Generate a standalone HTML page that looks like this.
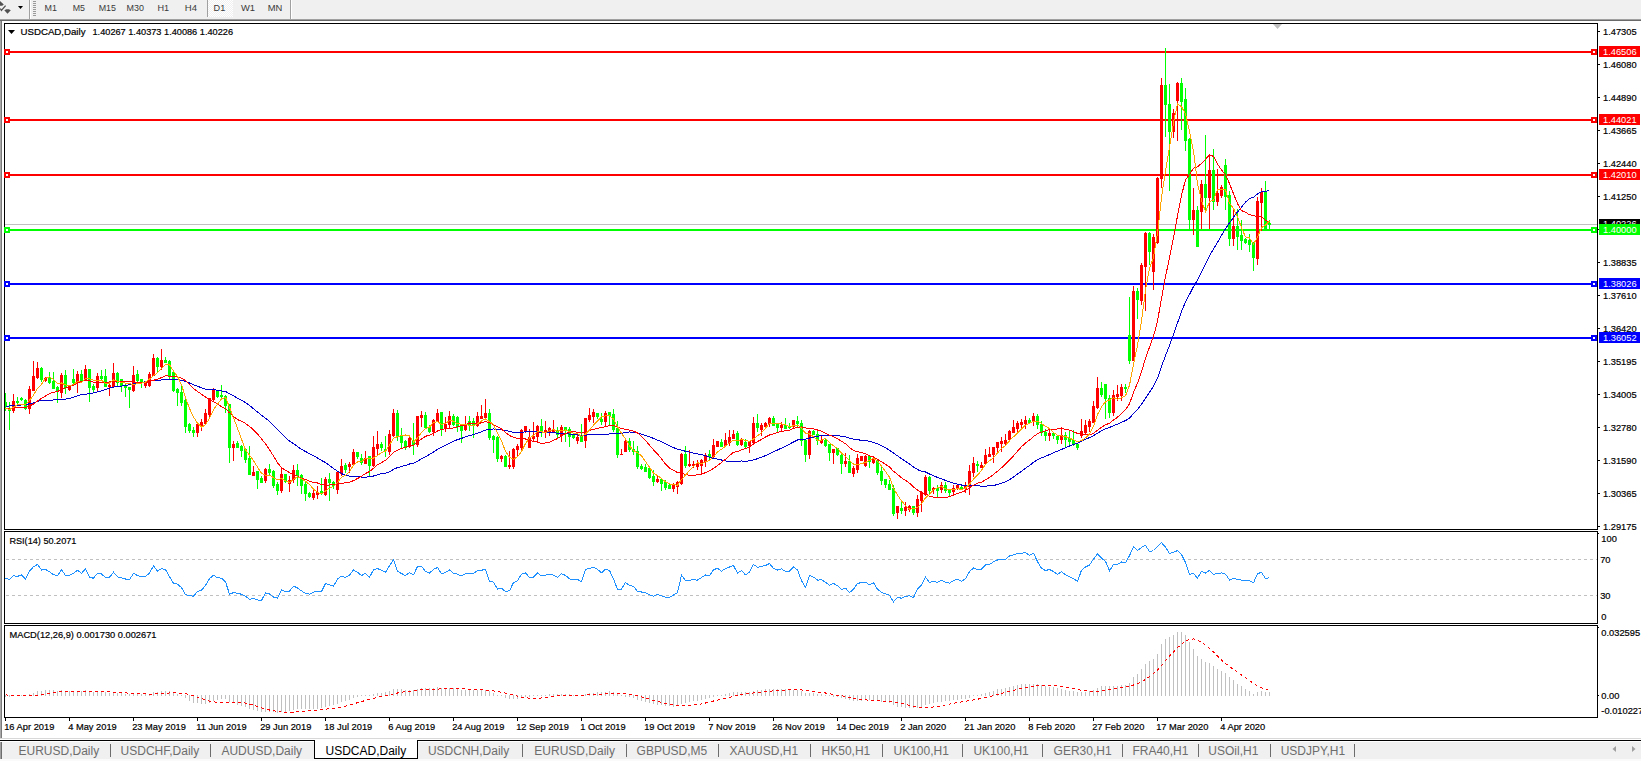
<!DOCTYPE html>
<html><head><meta charset="utf-8"><style>
html,body{margin:0;padding:0;background:#fff;width:1641px;height:761px;overflow:hidden}
svg{display:block}
</style></head><body>
<svg width="1641" height="761" viewBox="0 0 1641 761">
<rect x="0" y="0" width="1641" height="19" fill="#f0f0f0" />
<rect x="0" y="19" width="1641" height="1" fill="#a0a0a0" />
<rect x="0" y="20" width="1641" height="1" fill="#696969" />
<rect x="0" y="21" width="1" height="717" fill="#a8a8a8" />
<rect x="1" y="21" width="1" height="717" fill="#7a7a7a" />
<g fill="#505050" stroke="none"><path d="M0,1 L3.8,4.6 L2.2,5.8 L0,5.8 Z"/><path d="M4.3,10.3 L6.3,9.2 L8.8,9.2 L10.8,10.3 L7.5,13.8 Z"/></g>
<path d="M0.3,8.6 L1.4,10.4 L5.6,5.6" stroke="#505050" stroke-width="1.3" fill="none"/>
<path d="M18,6 L23,6 L20.5,9 Z" fill="#000"/>
<rect x="29" y="0" width="1" height="19" fill="#a0a0a0" />
<rect x="30" y="0" width="1" height="19" fill="#ffffff" />
<rect x="33" y="1" width="3" height="1" fill="#9a9a9a" />
<rect x="33" y="3" width="3" height="1" fill="#9a9a9a" />
<rect x="33" y="5" width="3" height="1" fill="#9a9a9a" />
<rect x="33" y="7" width="3" height="1" fill="#9a9a9a" />
<rect x="33" y="9" width="3" height="1" fill="#9a9a9a" />
<rect x="33" y="11" width="3" height="1" fill="#9a9a9a" />
<rect x="33" y="13" width="3" height="1" fill="#9a9a9a" />
<rect x="33" y="15" width="3" height="1" fill="#9a9a9a" />
<rect x="207" y="0" width="1" height="17" fill="#a0a0a0" />
<defs><pattern id="chk" width="2" height="2" patternUnits="userSpaceOnUse"><rect width="2" height="2" fill="#f0f0f0"/><rect width="1" height="1" fill="#ffffff"/><rect x="1" y="1" width="1" height="1" fill="#ffffff"/></pattern></defs>
<rect x="208" y="0" width="25" height="17" fill="url(#chk)" />
<text x="44.6" y="11" font-family="Liberation Sans, sans-serif" font-size="9.6" fill="#3a3a3a" textLength="12.40" lengthAdjust="spacingAndGlyphs">M1</text>
<text x="72.7" y="11" font-family="Liberation Sans, sans-serif" font-size="9.6" fill="#3a3a3a" textLength="12.30" lengthAdjust="spacingAndGlyphs">M5</text>
<text x="98.7" y="11" font-family="Liberation Sans, sans-serif" font-size="9.6" fill="#3a3a3a" textLength="17.30" lengthAdjust="spacingAndGlyphs">M15</text>
<text x="126.6" y="11" font-family="Liberation Sans, sans-serif" font-size="9.6" fill="#3a3a3a" textLength="17.40" lengthAdjust="spacingAndGlyphs">M30</text>
<text x="157.5" y="11" font-family="Liberation Sans, sans-serif" font-size="9.6" fill="#3a3a3a" textLength="11.70" lengthAdjust="spacingAndGlyphs">H1</text>
<text x="184.8" y="11" font-family="Liberation Sans, sans-serif" font-size="9.6" fill="#3a3a3a" textLength="12.20" lengthAdjust="spacingAndGlyphs">H4</text>
<text x="213.6" y="11" font-family="Liberation Sans, sans-serif" font-size="9.6" fill="#3a3a3a" textLength="11.70" lengthAdjust="spacingAndGlyphs">D1</text>
<text x="240.9" y="11" font-family="Liberation Sans, sans-serif" font-size="9.6" fill="#3a3a3a" textLength="14.10" lengthAdjust="spacingAndGlyphs">W1</text>
<text x="267.7" y="11" font-family="Liberation Sans, sans-serif" font-size="9.6" fill="#3a3a3a" textLength="14.60" lengthAdjust="spacingAndGlyphs">MN</text>
<rect x="290" y="0" width="1" height="19" fill="#a0a0a0" />
<rect x="291" y="0" width="1" height="19" fill="#ffffff" />
<rect x="2" y="21" width="1639" height="716" fill="#ffffff" />
<rect x="4" y="23" width="1594" height="1" fill="#000" />
<rect x="4" y="529" width="1594" height="1" fill="#000" />
<rect x="4" y="23" width="1" height="507" fill="#000" />
<rect x="1597" y="23" width="1" height="507" fill="#000" />
<rect x="4" y="531" width="1594" height="1" fill="#000" />
<rect x="4" y="623" width="1594" height="1" fill="#000" />
<rect x="4" y="531" width="1" height="93" fill="#000" />
<rect x="1597" y="531" width="1" height="93" fill="#000" />
<rect x="4" y="625" width="1594" height="1" fill="#000" />
<rect x="4" y="717" width="1594" height="1" fill="#000" />
<rect x="4" y="625" width="1" height="93" fill="#000" />
<rect x="1597" y="625" width="1" height="93" fill="#000" />
<path d="M1273,24 L1282,24 L1277.5,29 Z" fill="#c0c0c0"/>
<rect x="1598" y="31" width="2" height="1" fill="#000" />
<text x="1603" y="35" font-family="Liberation Sans, sans-serif" font-size="9.7" fill="#000" stroke="#000" stroke-width="0.2" textLength="33.61" lengthAdjust="spacingAndGlyphs">1.47305</text>
<rect x="1598" y="64" width="2" height="1" fill="#000" />
<text x="1603" y="68" font-family="Liberation Sans, sans-serif" font-size="9.7" fill="#000" stroke="#000" stroke-width="0.2" textLength="33.61" lengthAdjust="spacingAndGlyphs">1.46080</text>
<rect x="1598" y="97" width="2" height="1" fill="#000" />
<text x="1603" y="101" font-family="Liberation Sans, sans-serif" font-size="9.7" fill="#000" stroke="#000" stroke-width="0.2" textLength="33.61" lengthAdjust="spacingAndGlyphs">1.44890</text>
<rect x="1598" y="130" width="2" height="1" fill="#000" />
<text x="1603" y="134" font-family="Liberation Sans, sans-serif" font-size="9.7" fill="#000" stroke="#000" stroke-width="0.2" textLength="33.61" lengthAdjust="spacingAndGlyphs">1.43665</text>
<rect x="1598" y="163" width="2" height="1" fill="#000" />
<text x="1603" y="167" font-family="Liberation Sans, sans-serif" font-size="9.7" fill="#000" stroke="#000" stroke-width="0.2" textLength="33.61" lengthAdjust="spacingAndGlyphs">1.42440</text>
<rect x="1598" y="196" width="2" height="1" fill="#000" />
<text x="1603" y="200" font-family="Liberation Sans, sans-serif" font-size="9.7" fill="#000" stroke="#000" stroke-width="0.2" textLength="33.61" lengthAdjust="spacingAndGlyphs">1.41250</text>
<rect x="1598" y="229" width="2" height="1" fill="#000" />
<text x="1603" y="233" font-family="Liberation Sans, sans-serif" font-size="9.7" fill="#000" stroke="#000" stroke-width="0.2" textLength="33.61" lengthAdjust="spacingAndGlyphs">1.40025</text>
<rect x="1598" y="262" width="2" height="1" fill="#000" />
<text x="1603" y="266" font-family="Liberation Sans, sans-serif" font-size="9.7" fill="#000" stroke="#000" stroke-width="0.2" textLength="33.61" lengthAdjust="spacingAndGlyphs">1.38835</text>
<rect x="1598" y="295" width="2" height="1" fill="#000" />
<text x="1603" y="299" font-family="Liberation Sans, sans-serif" font-size="9.7" fill="#000" stroke="#000" stroke-width="0.2" textLength="33.61" lengthAdjust="spacingAndGlyphs">1.37610</text>
<rect x="1598" y="328" width="2" height="1" fill="#000" />
<text x="1603" y="332" font-family="Liberation Sans, sans-serif" font-size="9.7" fill="#000" stroke="#000" stroke-width="0.2" textLength="33.61" lengthAdjust="spacingAndGlyphs">1.36420</text>
<rect x="1598" y="361" width="2" height="1" fill="#000" />
<text x="1603" y="365" font-family="Liberation Sans, sans-serif" font-size="9.7" fill="#000" stroke="#000" stroke-width="0.2" textLength="33.61" lengthAdjust="spacingAndGlyphs">1.35195</text>
<rect x="1598" y="394" width="2" height="1" fill="#000" />
<text x="1603" y="398" font-family="Liberation Sans, sans-serif" font-size="9.7" fill="#000" stroke="#000" stroke-width="0.2" textLength="33.61" lengthAdjust="spacingAndGlyphs">1.34005</text>
<rect x="1598" y="427" width="2" height="1" fill="#000" />
<text x="1603" y="431" font-family="Liberation Sans, sans-serif" font-size="9.7" fill="#000" stroke="#000" stroke-width="0.2" textLength="33.61" lengthAdjust="spacingAndGlyphs">1.32780</text>
<rect x="1598" y="460" width="2" height="1" fill="#000" />
<text x="1603" y="464" font-family="Liberation Sans, sans-serif" font-size="9.7" fill="#000" stroke="#000" stroke-width="0.2" textLength="33.61" lengthAdjust="spacingAndGlyphs">1.31590</text>
<rect x="1598" y="493" width="2" height="1" fill="#000" />
<text x="1603" y="497" font-family="Liberation Sans, sans-serif" font-size="9.7" fill="#000" stroke="#000" stroke-width="0.2" textLength="33.61" lengthAdjust="spacingAndGlyphs">1.30365</text>
<rect x="1598" y="526" width="2" height="1" fill="#000" />
<text x="1603" y="530" font-family="Liberation Sans, sans-serif" font-size="9.7" fill="#000" stroke="#000" stroke-width="0.2" textLength="33.61" lengthAdjust="spacingAndGlyphs">1.29175</text>
<clipPath id="mc"><rect x="5" y="24" width="1592" height="505"/></clipPath>
<g clip-path="url(#mc)" shape-rendering="crispEdges">
<rect x="5" y="224" width="1592" height="1" fill="#c0c0c0" />
<rect x="5" y="51" width="1592" height="2" fill="#ff0000" />
<rect x="5" y="119" width="1592" height="2" fill="#ff0000" />
<rect x="5" y="174" width="1592" height="2" fill="#ff0000" />
<rect x="5" y="283" width="1592" height="2" fill="#0000ff" />
<rect x="5" y="337" width="1592" height="2" fill="#0000ff" />
<rect x="5" y="229" width="1592" height="2" fill="#00ff00" />
<rect x="5" y="393" width="1" height="18" fill="#00ff00" />
<rect x="4" y="402" width="3" height="5" fill="#00ff00" />
<rect x="9" y="402" width="1" height="28" fill="#00ff00" />
<rect x="8" y="408" width="3" height="3" fill="#00ff00" />
<rect x="13" y="394" width="1" height="19" fill="#ff0000" />
<rect x="12" y="401" width="3" height="10" fill="#ff0000" />
<rect x="17" y="397" width="1" height="7" fill="#00ff00" />
<rect x="16" y="401" width="3" height="2" fill="#00ff00" />
<rect x="21" y="397" width="1" height="4" fill="#00ff00" />
<rect x="20" y="398" width="3" height="2" fill="#00ff00" />
<rect x="25" y="399" width="1" height="11" fill="#00ff00" />
<rect x="24" y="400" width="3" height="9" fill="#00ff00" />
<rect x="29" y="386" width="1" height="28" fill="#ff0000" />
<rect x="28" y="389" width="3" height="20" fill="#ff0000" />
<rect x="33" y="361" width="1" height="30" fill="#ff0000" />
<rect x="32" y="376" width="3" height="15" fill="#ff0000" />
<rect x="37" y="362" width="1" height="17" fill="#ff0000" />
<rect x="36" y="368" width="3" height="10" fill="#ff0000" />
<rect x="41" y="367" width="1" height="15" fill="#00ff00" />
<rect x="40" y="368" width="3" height="12" fill="#00ff00" />
<rect x="45" y="377" width="1" height="5" fill="#ff0000" />
<rect x="44" y="378" width="3" height="3" fill="#ff0000" />
<rect x="49" y="372" width="1" height="12" fill="#00ff00" />
<rect x="48" y="377" width="3" height="6" fill="#00ff00" />
<rect x="53" y="372" width="1" height="17" fill="#00ff00" />
<rect x="52" y="381" width="3" height="8" fill="#00ff00" />
<rect x="57" y="386" width="1" height="17" fill="#00ff00" />
<rect x="56" y="387" width="3" height="4" fill="#00ff00" />
<rect x="61" y="373" width="1" height="25" fill="#ff0000" />
<rect x="60" y="375" width="3" height="18" fill="#ff0000" />
<rect x="65" y="370" width="1" height="24" fill="#00ff00" />
<rect x="64" y="375" width="3" height="13" fill="#00ff00" />
<rect x="69" y="386" width="1" height="5" fill="#ff0000" />
<rect x="68" y="386" width="3" height="4" fill="#ff0000" />
<rect x="73" y="369" width="1" height="15" fill="#00ff00" />
<rect x="72" y="379" width="3" height="4" fill="#00ff00" />
<rect x="77" y="371" width="1" height="22" fill="#ff0000" />
<rect x="76" y="374" width="3" height="9" fill="#ff0000" />
<rect x="81" y="370" width="1" height="13" fill="#00ff00" />
<rect x="80" y="374" width="3" height="7" fill="#00ff00" />
<rect x="85" y="365" width="1" height="16" fill="#ff0000" />
<rect x="84" y="369" width="3" height="12" fill="#ff0000" />
<rect x="89" y="369" width="1" height="33" fill="#00ff00" />
<rect x="88" y="369" width="3" height="19" fill="#00ff00" />
<rect x="93" y="384" width="1" height="9" fill="#00ff00" />
<rect x="92" y="386" width="3" height="4" fill="#00ff00" />
<rect x="97" y="373" width="1" height="18" fill="#ff0000" />
<rect x="96" y="376" width="3" height="12" fill="#ff0000" />
<rect x="101" y="370" width="1" height="10" fill="#00ff00" />
<rect x="100" y="376" width="3" height="3" fill="#00ff00" />
<rect x="105" y="369" width="1" height="18" fill="#00ff00" />
<rect x="104" y="376" width="3" height="11" fill="#00ff00" />
<rect x="109" y="381" width="1" height="15" fill="#ff0000" />
<rect x="108" y="385" width="3" height="2" fill="#ff0000" />
<rect x="113" y="363" width="1" height="24" fill="#ff0000" />
<rect x="112" y="373" width="3" height="14" fill="#ff0000" />
<rect x="117" y="372" width="1" height="15" fill="#00ff00" />
<rect x="116" y="373" width="3" height="10" fill="#00ff00" />
<rect x="121" y="379" width="1" height="13" fill="#00ff00" />
<rect x="120" y="379" width="3" height="7" fill="#00ff00" />
<rect x="125" y="383" width="1" height="14" fill="#00ff00" />
<rect x="124" y="386" width="3" height="2" fill="#00ff00" />
<rect x="129" y="387" width="1" height="21" fill="#00ff00" />
<rect x="128" y="387" width="3" height="3" fill="#00ff00" />
<rect x="133" y="366" width="1" height="26" fill="#ff0000" />
<rect x="132" y="375" width="3" height="16" fill="#ff0000" />
<rect x="137" y="370" width="1" height="12" fill="#00ff00" />
<rect x="136" y="374" width="3" height="7" fill="#00ff00" />
<rect x="141" y="379" width="1" height="9" fill="#00ff00" />
<rect x="140" y="379" width="3" height="4" fill="#00ff00" />
<rect x="145" y="381" width="1" height="7" fill="#ff0000" />
<rect x="144" y="382" width="3" height="4" fill="#ff0000" />
<rect x="149" y="372" width="1" height="15" fill="#ff0000" />
<rect x="148" y="374" width="3" height="12" fill="#ff0000" />
<rect x="153" y="354" width="1" height="22" fill="#ff0000" />
<rect x="152" y="358" width="3" height="18" fill="#ff0000" />
<rect x="157" y="357" width="1" height="16" fill="#00ff00" />
<rect x="156" y="358" width="3" height="9" fill="#00ff00" />
<rect x="161" y="349" width="1" height="21" fill="#ff0000" />
<rect x="160" y="360" width="3" height="7" fill="#ff0000" />
<rect x="165" y="357" width="1" height="6" fill="#00ff00" />
<rect x="164" y="360" width="3" height="3" fill="#00ff00" />
<rect x="169" y="360" width="1" height="19" fill="#00ff00" />
<rect x="168" y="361" width="3" height="15" fill="#00ff00" />
<rect x="173" y="372" width="1" height="20" fill="#00ff00" />
<rect x="172" y="372" width="3" height="19" fill="#00ff00" />
<rect x="177" y="388" width="1" height="18" fill="#00ff00" />
<rect x="176" y="389" width="3" height="4" fill="#00ff00" />
<rect x="181" y="386" width="1" height="20" fill="#00ff00" />
<rect x="180" y="392" width="3" height="11" fill="#00ff00" />
<rect x="185" y="399" width="1" height="34" fill="#00ff00" />
<rect x="184" y="400" width="3" height="27" fill="#00ff00" />
<rect x="189" y="423" width="1" height="10" fill="#00ff00" />
<rect x="188" y="424" width="3" height="7" fill="#00ff00" />
<rect x="193" y="427" width="1" height="10" fill="#00ff00" />
<rect x="192" y="430" width="3" height="3" fill="#00ff00" />
<rect x="197" y="423" width="1" height="14" fill="#ff0000" />
<rect x="196" y="424" width="3" height="9" fill="#ff0000" />
<rect x="201" y="419" width="1" height="12" fill="#ff0000" />
<rect x="200" y="422" width="3" height="5" fill="#ff0000" />
<rect x="205" y="409" width="1" height="16" fill="#ff0000" />
<rect x="204" y="413" width="3" height="11" fill="#ff0000" />
<rect x="209" y="398" width="1" height="20" fill="#ff0000" />
<rect x="208" y="398" width="3" height="17" fill="#ff0000" />
<rect x="213" y="388" width="1" height="13" fill="#ff0000" />
<rect x="212" y="389" width="3" height="11" fill="#ff0000" />
<rect x="217" y="390" width="1" height="8" fill="#00ff00" />
<rect x="216" y="391" width="3" height="6" fill="#00ff00" />
<rect x="221" y="385" width="1" height="14" fill="#00ff00" />
<rect x="220" y="395" width="3" height="2" fill="#00ff00" />
<rect x="225" y="395" width="1" height="18" fill="#00ff00" />
<rect x="224" y="396" width="3" height="10" fill="#00ff00" />
<rect x="229" y="404" width="1" height="59" fill="#00ff00" />
<rect x="228" y="404" width="3" height="44" fill="#00ff00" />
<rect x="233" y="441" width="1" height="20" fill="#ff0000" />
<rect x="232" y="444" width="3" height="4" fill="#ff0000" />
<rect x="237" y="441" width="1" height="7" fill="#00ff00" />
<rect x="236" y="443" width="3" height="5" fill="#00ff00" />
<rect x="241" y="445" width="1" height="12" fill="#00ff00" />
<rect x="240" y="446" width="3" height="5" fill="#00ff00" />
<rect x="245" y="449" width="1" height="14" fill="#00ff00" />
<rect x="244" y="449" width="3" height="11" fill="#00ff00" />
<rect x="249" y="446" width="1" height="29" fill="#00ff00" />
<rect x="248" y="458" width="3" height="17" fill="#00ff00" />
<rect x="253" y="466" width="1" height="10" fill="#ff0000" />
<rect x="252" y="472" width="3" height="4" fill="#ff0000" />
<rect x="257" y="471" width="1" height="18" fill="#00ff00" />
<rect x="256" y="471" width="3" height="9" fill="#00ff00" />
<rect x="261" y="476" width="1" height="7" fill="#00ff00" />
<rect x="260" y="478" width="3" height="5" fill="#00ff00" />
<rect x="265" y="468" width="1" height="15" fill="#ff0000" />
<rect x="264" y="469" width="3" height="12" fill="#ff0000" />
<rect x="269" y="464" width="1" height="11" fill="#00ff00" />
<rect x="268" y="469" width="3" height="4" fill="#00ff00" />
<rect x="273" y="470" width="1" height="18" fill="#00ff00" />
<rect x="272" y="471" width="3" height="15" fill="#00ff00" />
<rect x="277" y="482" width="1" height="13" fill="#00ff00" />
<rect x="276" y="484" width="3" height="7" fill="#00ff00" />
<rect x="281" y="467" width="1" height="26" fill="#ff0000" />
<rect x="280" y="474" width="3" height="17" fill="#ff0000" />
<rect x="285" y="474" width="1" height="9" fill="#00ff00" />
<rect x="284" y="474" width="3" height="8" fill="#00ff00" />
<rect x="289" y="476" width="1" height="16" fill="#ff0000" />
<rect x="288" y="480" width="3" height="4" fill="#ff0000" />
<rect x="293" y="465" width="1" height="18" fill="#ff0000" />
<rect x="292" y="470" width="3" height="10" fill="#ff0000" />
<rect x="297" y="464" width="1" height="22" fill="#00ff00" />
<rect x="296" y="470" width="3" height="6" fill="#00ff00" />
<rect x="301" y="474" width="1" height="20" fill="#00ff00" />
<rect x="300" y="475" width="3" height="11" fill="#00ff00" />
<rect x="305" y="481" width="1" height="20" fill="#00ff00" />
<rect x="304" y="484" width="3" height="10" fill="#00ff00" />
<rect x="309" y="492" width="1" height="6" fill="#00ff00" />
<rect x="308" y="493" width="3" height="4" fill="#00ff00" />
<rect x="313" y="489" width="1" height="11" fill="#ff0000" />
<rect x="312" y="493" width="3" height="5" fill="#ff0000" />
<rect x="317" y="486" width="1" height="13" fill="#ff0000" />
<rect x="316" y="492" width="3" height="3" fill="#ff0000" />
<rect x="321" y="478" width="1" height="17" fill="#00ff00" />
<rect x="320" y="491" width="3" height="3" fill="#00ff00" />
<rect x="325" y="477" width="1" height="19" fill="#ff0000" />
<rect x="324" y="479" width="3" height="16" fill="#ff0000" />
<rect x="329" y="473" width="1" height="28" fill="#00ff00" />
<rect x="328" y="479" width="3" height="4" fill="#00ff00" />
<rect x="333" y="481" width="1" height="8" fill="#00ff00" />
<rect x="332" y="482" width="3" height="4" fill="#00ff00" />
<rect x="337" y="471" width="1" height="23" fill="#ff0000" />
<rect x="336" y="472" width="3" height="18" fill="#ff0000" />
<rect x="341" y="459" width="1" height="17" fill="#ff0000" />
<rect x="340" y="466" width="3" height="8" fill="#ff0000" />
<rect x="345" y="463" width="1" height="10" fill="#00ff00" />
<rect x="344" y="465" width="3" height="5" fill="#00ff00" />
<rect x="349" y="462" width="1" height="11" fill="#ff0000" />
<rect x="348" y="464" width="3" height="3" fill="#ff0000" />
<rect x="353" y="449" width="1" height="17" fill="#ff0000" />
<rect x="352" y="452" width="3" height="13" fill="#ff0000" />
<rect x="357" y="452" width="1" height="7" fill="#00ff00" />
<rect x="356" y="452" width="3" height="5" fill="#00ff00" />
<rect x="361" y="454" width="1" height="11" fill="#00ff00" />
<rect x="360" y="458" width="3" height="5" fill="#00ff00" />
<rect x="365" y="451" width="1" height="13" fill="#ff0000" />
<rect x="364" y="458" width="3" height="6" fill="#ff0000" />
<rect x="369" y="456" width="1" height="20" fill="#00ff00" />
<rect x="368" y="456" width="3" height="10" fill="#00ff00" />
<rect x="373" y="436" width="1" height="31" fill="#ff0000" />
<rect x="372" y="447" width="3" height="19" fill="#ff0000" />
<rect x="377" y="431" width="1" height="24" fill="#ff0000" />
<rect x="376" y="444" width="3" height="5" fill="#ff0000" />
<rect x="381" y="442" width="1" height="9" fill="#00ff00" />
<rect x="380" y="444" width="3" height="4" fill="#00ff00" />
<rect x="385" y="436" width="1" height="21" fill="#00ff00" />
<rect x="384" y="449" width="3" height="2" fill="#00ff00" />
<rect x="389" y="430" width="1" height="25" fill="#ff0000" />
<rect x="388" y="434" width="3" height="18" fill="#ff0000" />
<rect x="393" y="409" width="1" height="28" fill="#ff0000" />
<rect x="392" y="413" width="3" height="23" fill="#ff0000" />
<rect x="397" y="410" width="1" height="31" fill="#00ff00" />
<rect x="396" y="413" width="3" height="24" fill="#00ff00" />
<rect x="401" y="428" width="1" height="21" fill="#00ff00" />
<rect x="400" y="436" width="3" height="7" fill="#00ff00" />
<rect x="405" y="440" width="1" height="10" fill="#00ff00" />
<rect x="404" y="441" width="3" height="7" fill="#00ff00" />
<rect x="409" y="435" width="1" height="13" fill="#ff0000" />
<rect x="408" y="438" width="3" height="9" fill="#ff0000" />
<rect x="413" y="423" width="1" height="32" fill="#00ff00" />
<rect x="412" y="441" width="3" height="4" fill="#00ff00" />
<rect x="417" y="416" width="1" height="31" fill="#ff0000" />
<rect x="416" y="416" width="3" height="29" fill="#ff0000" />
<rect x="421" y="411" width="1" height="16" fill="#ff0000" />
<rect x="420" y="415" width="3" height="3" fill="#ff0000" />
<rect x="425" y="412" width="1" height="17" fill="#00ff00" />
<rect x="424" y="415" width="3" height="13" fill="#00ff00" />
<rect x="429" y="425" width="1" height="8" fill="#00ff00" />
<rect x="428" y="427" width="3" height="5" fill="#00ff00" />
<rect x="433" y="419" width="1" height="17" fill="#ff0000" />
<rect x="432" y="420" width="3" height="12" fill="#ff0000" />
<rect x="437" y="409" width="1" height="13" fill="#ff0000" />
<rect x="436" y="413" width="3" height="9" fill="#ff0000" />
<rect x="441" y="412" width="1" height="24" fill="#00ff00" />
<rect x="440" y="412" width="3" height="17" fill="#00ff00" />
<rect x="445" y="417" width="1" height="15" fill="#ff0000" />
<rect x="444" y="424" width="3" height="5" fill="#ff0000" />
<rect x="449" y="411" width="1" height="17" fill="#ff0000" />
<rect x="448" y="416" width="3" height="9" fill="#ff0000" />
<rect x="453" y="414" width="1" height="12" fill="#00ff00" />
<rect x="452" y="416" width="3" height="9" fill="#00ff00" />
<rect x="457" y="416" width="1" height="16" fill="#00ff00" />
<rect x="456" y="417" width="3" height="10" fill="#00ff00" />
<rect x="461" y="426" width="1" height="17" fill="#00ff00" />
<rect x="460" y="426" width="3" height="5" fill="#00ff00" />
<rect x="465" y="416" width="1" height="15" fill="#ff0000" />
<rect x="464" y="424" width="3" height="6" fill="#ff0000" />
<rect x="469" y="416" width="1" height="15" fill="#00ff00" />
<rect x="468" y="421" width="3" height="4" fill="#00ff00" />
<rect x="473" y="418" width="1" height="20" fill="#00ff00" />
<rect x="472" y="421" width="3" height="4" fill="#00ff00" />
<rect x="477" y="412" width="1" height="15" fill="#ff0000" />
<rect x="476" y="416" width="3" height="10" fill="#ff0000" />
<rect x="481" y="405" width="1" height="14" fill="#ff0000" />
<rect x="480" y="416" width="3" height="3" fill="#ff0000" />
<rect x="485" y="399" width="1" height="19" fill="#ff0000" />
<rect x="484" y="413" width="3" height="5" fill="#ff0000" />
<rect x="489" y="409" width="1" height="31" fill="#00ff00" />
<rect x="488" y="413" width="3" height="25" fill="#00ff00" />
<rect x="493" y="435" width="1" height="18" fill="#00ff00" />
<rect x="492" y="436" width="3" height="4" fill="#00ff00" />
<rect x="497" y="436" width="1" height="26" fill="#00ff00" />
<rect x="496" y="437" width="3" height="22" fill="#00ff00" />
<rect x="501" y="455" width="1" height="7" fill="#ff0000" />
<rect x="500" y="456" width="3" height="3" fill="#ff0000" />
<rect x="505" y="455" width="1" height="12" fill="#00ff00" />
<rect x="504" y="456" width="3" height="11" fill="#00ff00" />
<rect x="509" y="451" width="1" height="18" fill="#ff0000" />
<rect x="508" y="465" width="3" height="2" fill="#ff0000" />
<rect x="513" y="448" width="1" height="21" fill="#ff0000" />
<rect x="512" y="449" width="3" height="18" fill="#ff0000" />
<rect x="517" y="444" width="1" height="13" fill="#ff0000" />
<rect x="516" y="446" width="3" height="4" fill="#ff0000" />
<rect x="521" y="429" width="1" height="22" fill="#ff0000" />
<rect x="520" y="430" width="3" height="18" fill="#ff0000" />
<rect x="525" y="426" width="1" height="7" fill="#ff0000" />
<rect x="524" y="426" width="3" height="6" fill="#ff0000" />
<rect x="529" y="429" width="1" height="19" fill="#ff0000" />
<rect x="528" y="437" width="3" height="11" fill="#ff0000" />
<rect x="533" y="422" width="1" height="19" fill="#ff0000" />
<rect x="532" y="436" width="3" height="3" fill="#ff0000" />
<rect x="537" y="425" width="1" height="17" fill="#ff0000" />
<rect x="536" y="426" width="3" height="11" fill="#ff0000" />
<rect x="541" y="419" width="1" height="18" fill="#00ff00" />
<rect x="540" y="426" width="3" height="7" fill="#00ff00" />
<rect x="545" y="421" width="1" height="17" fill="#ff0000" />
<rect x="544" y="430" width="3" height="3" fill="#ff0000" />
<rect x="549" y="427" width="1" height="9" fill="#ff0000" />
<rect x="548" y="428" width="3" height="4" fill="#ff0000" />
<rect x="553" y="420" width="1" height="13" fill="#ff0000" />
<rect x="552" y="430" width="3" height="2" fill="#ff0000" />
<rect x="557" y="427" width="1" height="11" fill="#00ff00" />
<rect x="556" y="430" width="3" height="5" fill="#00ff00" />
<rect x="561" y="425" width="1" height="17" fill="#ff0000" />
<rect x="560" y="427" width="3" height="9" fill="#ff0000" />
<rect x="565" y="427" width="1" height="15" fill="#00ff00" />
<rect x="564" y="427" width="3" height="4" fill="#00ff00" />
<rect x="569" y="427" width="1" height="20" fill="#00ff00" />
<rect x="568" y="429" width="3" height="8" fill="#00ff00" />
<rect x="573" y="434" width="1" height="5" fill="#00ff00" />
<rect x="572" y="435" width="3" height="3" fill="#00ff00" />
<rect x="577" y="435" width="1" height="9" fill="#ff0000" />
<rect x="576" y="437" width="3" height="4" fill="#ff0000" />
<rect x="581" y="424" width="1" height="18" fill="#00ff00" />
<rect x="580" y="436" width="3" height="6" fill="#00ff00" />
<rect x="585" y="418" width="1" height="30" fill="#ff0000" />
<rect x="584" y="418" width="3" height="23" fill="#ff0000" />
<rect x="589" y="408" width="1" height="14" fill="#ff0000" />
<rect x="588" y="415" width="3" height="5" fill="#ff0000" />
<rect x="593" y="409" width="1" height="14" fill="#ff0000" />
<rect x="592" y="412" width="3" height="5" fill="#ff0000" />
<rect x="597" y="413" width="1" height="6" fill="#00ff00" />
<rect x="596" y="413" width="3" height="4" fill="#00ff00" />
<rect x="601" y="413" width="1" height="12" fill="#00ff00" />
<rect x="600" y="419" width="3" height="3" fill="#00ff00" />
<rect x="605" y="411" width="1" height="16" fill="#ff0000" />
<rect x="604" y="413" width="3" height="9" fill="#ff0000" />
<rect x="609" y="412" width="1" height="13" fill="#00ff00" />
<rect x="608" y="412" width="3" height="4" fill="#00ff00" />
<rect x="613" y="409" width="1" height="23" fill="#00ff00" />
<rect x="612" y="414" width="3" height="16" fill="#00ff00" />
<rect x="617" y="421" width="1" height="37" fill="#00ff00" />
<rect x="616" y="428" width="3" height="27" fill="#00ff00" />
<rect x="621" y="449" width="1" height="6" fill="#ff0000" />
<rect x="620" y="454" width="3" height="1" fill="#ff0000" />
<rect x="625" y="439" width="1" height="13" fill="#ff0000" />
<rect x="624" y="441" width="3" height="11" fill="#ff0000" />
<rect x="629" y="438" width="1" height="14" fill="#00ff00" />
<rect x="628" y="441" width="3" height="9" fill="#00ff00" />
<rect x="633" y="441" width="1" height="14" fill="#00ff00" />
<rect x="632" y="449" width="3" height="3" fill="#00ff00" />
<rect x="637" y="446" width="1" height="23" fill="#00ff00" />
<rect x="636" y="451" width="3" height="16" fill="#00ff00" />
<rect x="641" y="464" width="1" height="6" fill="#00ff00" />
<rect x="640" y="466" width="3" height="3" fill="#00ff00" />
<rect x="645" y="464" width="1" height="8" fill="#00ff00" />
<rect x="644" y="467" width="3" height="5" fill="#00ff00" />
<rect x="649" y="467" width="1" height="12" fill="#00ff00" />
<rect x="648" y="468" width="3" height="10" fill="#00ff00" />
<rect x="653" y="470" width="1" height="16" fill="#00ff00" />
<rect x="652" y="476" width="3" height="6" fill="#00ff00" />
<rect x="657" y="475" width="1" height="8" fill="#ff0000" />
<rect x="656" y="479" width="3" height="3" fill="#ff0000" />
<rect x="661" y="478" width="1" height="13" fill="#00ff00" />
<rect x="660" y="479" width="3" height="5" fill="#00ff00" />
<rect x="665" y="480" width="1" height="10" fill="#00ff00" />
<rect x="664" y="482" width="3" height="6" fill="#00ff00" />
<rect x="669" y="484" width="1" height="5" fill="#00ff00" />
<rect x="668" y="485" width="3" height="4" fill="#00ff00" />
<rect x="673" y="483" width="1" height="9" fill="#ff0000" />
<rect x="672" y="485" width="3" height="4" fill="#ff0000" />
<rect x="677" y="481" width="1" height="13" fill="#ff0000" />
<rect x="676" y="482" width="3" height="5" fill="#ff0000" />
<rect x="681" y="453" width="1" height="32" fill="#ff0000" />
<rect x="680" y="454" width="3" height="30" fill="#ff0000" />
<rect x="685" y="446" width="1" height="22" fill="#00ff00" />
<rect x="684" y="454" width="3" height="12" fill="#00ff00" />
<rect x="689" y="450" width="1" height="17" fill="#ff0000" />
<rect x="688" y="464" width="3" height="2" fill="#ff0000" />
<rect x="693" y="461" width="1" height="7" fill="#ff0000" />
<rect x="692" y="464" width="3" height="2" fill="#ff0000" />
<rect x="697" y="460" width="1" height="10" fill="#ff0000" />
<rect x="696" y="464" width="3" height="3" fill="#ff0000" />
<rect x="701" y="459" width="1" height="16" fill="#ff0000" />
<rect x="700" y="460" width="3" height="6" fill="#ff0000" />
<rect x="705" y="453" width="1" height="14" fill="#ff0000" />
<rect x="704" y="455" width="3" height="7" fill="#ff0000" />
<rect x="709" y="450" width="1" height="11" fill="#00ff00" />
<rect x="708" y="454" width="3" height="3" fill="#00ff00" />
<rect x="713" y="439" width="1" height="19" fill="#ff0000" />
<rect x="712" y="445" width="3" height="12" fill="#ff0000" />
<rect x="717" y="441" width="1" height="6" fill="#ff0000" />
<rect x="716" y="441" width="3" height="6" fill="#ff0000" />
<rect x="721" y="439" width="1" height="8" fill="#00ff00" />
<rect x="720" y="442" width="3" height="5" fill="#00ff00" />
<rect x="725" y="433" width="1" height="14" fill="#ff0000" />
<rect x="724" y="440" width="3" height="6" fill="#ff0000" />
<rect x="729" y="430" width="1" height="16" fill="#ff0000" />
<rect x="728" y="437" width="3" height="6" fill="#ff0000" />
<rect x="733" y="430" width="1" height="9" fill="#ff0000" />
<rect x="732" y="434" width="3" height="5" fill="#ff0000" />
<rect x="737" y="431" width="1" height="15" fill="#00ff00" />
<rect x="736" y="433" width="3" height="12" fill="#00ff00" />
<rect x="741" y="438" width="1" height="8" fill="#ff0000" />
<rect x="740" y="439" width="3" height="6" fill="#ff0000" />
<rect x="745" y="439" width="1" height="9" fill="#00ff00" />
<rect x="744" y="442" width="3" height="5" fill="#00ff00" />
<rect x="749" y="441" width="1" height="12" fill="#ff0000" />
<rect x="748" y="441" width="3" height="5" fill="#ff0000" />
<rect x="753" y="417" width="1" height="27" fill="#ff0000" />
<rect x="752" y="423" width="3" height="20" fill="#ff0000" />
<rect x="757" y="414" width="1" height="18" fill="#00ff00" />
<rect x="756" y="423" width="3" height="5" fill="#00ff00" />
<rect x="761" y="423" width="1" height="13" fill="#ff0000" />
<rect x="760" y="425" width="3" height="5" fill="#ff0000" />
<rect x="765" y="422" width="1" height="5" fill="#ff0000" />
<rect x="764" y="423" width="3" height="4" fill="#ff0000" />
<rect x="769" y="417" width="1" height="10" fill="#ff0000" />
<rect x="768" y="418" width="3" height="6" fill="#ff0000" />
<rect x="773" y="416" width="1" height="10" fill="#00ff00" />
<rect x="772" y="418" width="3" height="8" fill="#00ff00" />
<rect x="777" y="423" width="1" height="10" fill="#00ff00" />
<rect x="776" y="424" width="3" height="4" fill="#00ff00" />
<rect x="781" y="422" width="1" height="9" fill="#ff0000" />
<rect x="780" y="425" width="3" height="3" fill="#ff0000" />
<rect x="785" y="418" width="1" height="11" fill="#00ff00" />
<rect x="784" y="425" width="3" height="4" fill="#00ff00" />
<rect x="789" y="423" width="1" height="6" fill="#00ff00" />
<rect x="788" y="426" width="3" height="2" fill="#00ff00" />
<rect x="793" y="420" width="1" height="9" fill="#ff0000" />
<rect x="792" y="420" width="3" height="7" fill="#ff0000" />
<rect x="797" y="416" width="1" height="11" fill="#00ff00" />
<rect x="796" y="421" width="3" height="3" fill="#00ff00" />
<rect x="801" y="420" width="1" height="26" fill="#00ff00" />
<rect x="800" y="423" width="3" height="18" fill="#00ff00" />
<rect x="805" y="439" width="1" height="23" fill="#00ff00" />
<rect x="804" y="440" width="3" height="15" fill="#00ff00" />
<rect x="809" y="430" width="1" height="29" fill="#ff0000" />
<rect x="808" y="431" width="3" height="24" fill="#ff0000" />
<rect x="813" y="430" width="1" height="5" fill="#00ff00" />
<rect x="812" y="431" width="3" height="4" fill="#00ff00" />
<rect x="817" y="431" width="1" height="14" fill="#00ff00" />
<rect x="816" y="434" width="3" height="7" fill="#00ff00" />
<rect x="821" y="435" width="1" height="9" fill="#ff0000" />
<rect x="820" y="440" width="3" height="3" fill="#ff0000" />
<rect x="825" y="439" width="1" height="8" fill="#00ff00" />
<rect x="824" y="440" width="3" height="6" fill="#00ff00" />
<rect x="829" y="444" width="1" height="17" fill="#00ff00" />
<rect x="828" y="444" width="3" height="9" fill="#00ff00" />
<rect x="833" y="449" width="1" height="15" fill="#ff0000" />
<rect x="832" y="449" width="3" height="4" fill="#ff0000" />
<rect x="837" y="448" width="1" height="8" fill="#00ff00" />
<rect x="836" y="448" width="3" height="7" fill="#00ff00" />
<rect x="841" y="453" width="1" height="21" fill="#00ff00" />
<rect x="840" y="455" width="3" height="9" fill="#00ff00" />
<rect x="845" y="453" width="1" height="14" fill="#ff0000" />
<rect x="844" y="461" width="3" height="3" fill="#ff0000" />
<rect x="849" y="455" width="1" height="18" fill="#00ff00" />
<rect x="848" y="461" width="3" height="12" fill="#00ff00" />
<rect x="853" y="466" width="1" height="11" fill="#ff0000" />
<rect x="852" y="468" width="3" height="6" fill="#ff0000" />
<rect x="857" y="454" width="1" height="19" fill="#ff0000" />
<rect x="856" y="458" width="3" height="12" fill="#ff0000" />
<rect x="861" y="456" width="1" height="5" fill="#ff0000" />
<rect x="860" y="456" width="3" height="5" fill="#ff0000" />
<rect x="865" y="455" width="1" height="12" fill="#ff0000" />
<rect x="864" y="456" width="3" height="10" fill="#ff0000" />
<rect x="869" y="456" width="1" height="12" fill="#00ff00" />
<rect x="868" y="456" width="3" height="6" fill="#00ff00" />
<rect x="873" y="456" width="1" height="8" fill="#ff0000" />
<rect x="872" y="458" width="3" height="5" fill="#ff0000" />
<rect x="877" y="460" width="1" height="15" fill="#00ff00" />
<rect x="876" y="461" width="3" height="12" fill="#00ff00" />
<rect x="881" y="467" width="1" height="18" fill="#00ff00" />
<rect x="880" y="471" width="3" height="10" fill="#00ff00" />
<rect x="885" y="479" width="1" height="9" fill="#00ff00" />
<rect x="884" y="479" width="3" height="6" fill="#00ff00" />
<rect x="889" y="480" width="1" height="10" fill="#00ff00" />
<rect x="888" y="484" width="3" height="6" fill="#00ff00" />
<rect x="893" y="485" width="1" height="31" fill="#00ff00" />
<rect x="892" y="488" width="3" height="26" fill="#00ff00" />
<rect x="897" y="506" width="1" height="13" fill="#ff0000" />
<rect x="896" y="506" width="3" height="7" fill="#ff0000" />
<rect x="901" y="501" width="1" height="13" fill="#00ff00" />
<rect x="900" y="508" width="3" height="3" fill="#00ff00" />
<rect x="905" y="502" width="1" height="14" fill="#ff0000" />
<rect x="904" y="507" width="3" height="4" fill="#ff0000" />
<rect x="909" y="505" width="1" height="7" fill="#ff0000" />
<rect x="908" y="506" width="3" height="4" fill="#ff0000" />
<rect x="913" y="506" width="1" height="9" fill="#00ff00" />
<rect x="912" y="506" width="3" height="7" fill="#00ff00" />
<rect x="917" y="495" width="1" height="22" fill="#ff0000" />
<rect x="916" y="499" width="3" height="14" fill="#ff0000" />
<rect x="921" y="491" width="1" height="21" fill="#ff0000" />
<rect x="920" y="492" width="3" height="9" fill="#ff0000" />
<rect x="925" y="475" width="1" height="21" fill="#ff0000" />
<rect x="924" y="477" width="3" height="18" fill="#ff0000" />
<rect x="929" y="476" width="1" height="19" fill="#00ff00" />
<rect x="928" y="477" width="3" height="14" fill="#00ff00" />
<rect x="933" y="487" width="1" height="7" fill="#ff0000" />
<rect x="932" y="488" width="3" height="2" fill="#ff0000" />
<rect x="937" y="485" width="1" height="12" fill="#00ff00" />
<rect x="936" y="488" width="3" height="3" fill="#00ff00" />
<rect x="941" y="482" width="1" height="11" fill="#ff0000" />
<rect x="940" y="485" width="3" height="5" fill="#ff0000" />
<rect x="945" y="482" width="1" height="11" fill="#00ff00" />
<rect x="944" y="485" width="3" height="6" fill="#00ff00" />
<rect x="949" y="489" width="1" height="8" fill="#00ff00" />
<rect x="948" y="490" width="3" height="3" fill="#00ff00" />
<rect x="953" y="485" width="1" height="11" fill="#ff0000" />
<rect x="952" y="488" width="3" height="4" fill="#ff0000" />
<rect x="957" y="485" width="1" height="5" fill="#ff0000" />
<rect x="956" y="485" width="3" height="4" fill="#ff0000" />
<rect x="961" y="485" width="1" height="5" fill="#00ff00" />
<rect x="960" y="487" width="3" height="3" fill="#00ff00" />
<rect x="965" y="482" width="1" height="11" fill="#ff0000" />
<rect x="964" y="485" width="3" height="4" fill="#ff0000" />
<rect x="969" y="465" width="1" height="30" fill="#ff0000" />
<rect x="968" y="471" width="3" height="16" fill="#ff0000" />
<rect x="973" y="457" width="1" height="20" fill="#ff0000" />
<rect x="972" y="463" width="3" height="10" fill="#ff0000" />
<rect x="977" y="461" width="1" height="11" fill="#00ff00" />
<rect x="976" y="464" width="3" height="2" fill="#00ff00" />
<rect x="981" y="462" width="1" height="6" fill="#ff0000" />
<rect x="980" y="465" width="3" height="3" fill="#ff0000" />
<rect x="985" y="449" width="1" height="16" fill="#ff0000" />
<rect x="984" y="455" width="3" height="9" fill="#ff0000" />
<rect x="989" y="447" width="1" height="10" fill="#ff0000" />
<rect x="988" y="454" width="3" height="3" fill="#ff0000" />
<rect x="993" y="447" width="1" height="16" fill="#ff0000" />
<rect x="992" y="447" width="3" height="8" fill="#ff0000" />
<rect x="997" y="442" width="1" height="10" fill="#ff0000" />
<rect x="996" y="442" width="3" height="6" fill="#ff0000" />
<rect x="1001" y="437" width="1" height="15" fill="#ff0000" />
<rect x="1000" y="441" width="3" height="3" fill="#ff0000" />
<rect x="1005" y="434" width="1" height="11" fill="#ff0000" />
<rect x="1004" y="440" width="3" height="4" fill="#ff0000" />
<rect x="1009" y="430" width="1" height="10" fill="#ff0000" />
<rect x="1008" y="431" width="3" height="9" fill="#ff0000" />
<rect x="1013" y="420" width="1" height="13" fill="#ff0000" />
<rect x="1012" y="427" width="3" height="6" fill="#ff0000" />
<rect x="1017" y="421" width="1" height="12" fill="#ff0000" />
<rect x="1016" y="423" width="3" height="6" fill="#ff0000" />
<rect x="1021" y="419" width="1" height="10" fill="#ff0000" />
<rect x="1020" y="422" width="3" height="3" fill="#ff0000" />
<rect x="1025" y="416" width="1" height="13" fill="#ff0000" />
<rect x="1024" y="420" width="3" height="4" fill="#ff0000" />
<rect x="1029" y="418" width="1" height="6" fill="#00ff00" />
<rect x="1028" y="420" width="3" height="3" fill="#00ff00" />
<rect x="1033" y="413" width="1" height="13" fill="#ff0000" />
<rect x="1032" y="416" width="3" height="6" fill="#ff0000" />
<rect x="1037" y="414" width="1" height="15" fill="#00ff00" />
<rect x="1036" y="416" width="3" height="9" fill="#00ff00" />
<rect x="1041" y="421" width="1" height="15" fill="#00ff00" />
<rect x="1040" y="424" width="3" height="9" fill="#00ff00" />
<rect x="1045" y="429" width="1" height="12" fill="#00ff00" />
<rect x="1044" y="432" width="3" height="4" fill="#00ff00" />
<rect x="1049" y="429" width="1" height="12" fill="#ff0000" />
<rect x="1048" y="433" width="3" height="3" fill="#ff0000" />
<rect x="1053" y="433" width="1" height="6" fill="#00ff00" />
<rect x="1052" y="433" width="3" height="3" fill="#00ff00" />
<rect x="1057" y="435" width="1" height="9" fill="#00ff00" />
<rect x="1056" y="436" width="3" height="4" fill="#00ff00" />
<rect x="1061" y="427" width="1" height="17" fill="#ff0000" />
<rect x="1060" y="435" width="3" height="5" fill="#ff0000" />
<rect x="1065" y="432" width="1" height="15" fill="#00ff00" />
<rect x="1064" y="435" width="3" height="5" fill="#00ff00" />
<rect x="1069" y="431" width="1" height="15" fill="#00ff00" />
<rect x="1068" y="438" width="3" height="4" fill="#00ff00" />
<rect x="1073" y="430" width="1" height="16" fill="#00ff00" />
<rect x="1072" y="440" width="3" height="4" fill="#00ff00" />
<rect x="1077" y="443" width="1" height="7" fill="#00ff00" />
<rect x="1076" y="444" width="3" height="4" fill="#00ff00" />
<rect x="1081" y="419" width="1" height="19" fill="#ff0000" />
<rect x="1080" y="431" width="3" height="5" fill="#ff0000" />
<rect x="1085" y="420" width="1" height="14" fill="#ff0000" />
<rect x="1084" y="425" width="3" height="8" fill="#ff0000" />
<rect x="1089" y="419" width="1" height="13" fill="#ff0000" />
<rect x="1088" y="421" width="3" height="6" fill="#ff0000" />
<rect x="1093" y="401" width="1" height="22" fill="#ff0000" />
<rect x="1092" y="406" width="3" height="17" fill="#ff0000" />
<rect x="1097" y="377" width="1" height="32" fill="#ff0000" />
<rect x="1096" y="388" width="3" height="20" fill="#ff0000" />
<rect x="1101" y="382" width="1" height="15" fill="#00ff00" />
<rect x="1100" y="388" width="3" height="7" fill="#00ff00" />
<rect x="1105" y="384" width="1" height="35" fill="#00ff00" />
<rect x="1104" y="384" width="3" height="15" fill="#00ff00" />
<rect x="1109" y="395" width="1" height="23" fill="#00ff00" />
<rect x="1108" y="398" width="3" height="15" fill="#00ff00" />
<rect x="1113" y="390" width="1" height="26" fill="#ff0000" />
<rect x="1112" y="395" width="3" height="18" fill="#ff0000" />
<rect x="1117" y="385" width="1" height="16" fill="#ff0000" />
<rect x="1116" y="394" width="3" height="3" fill="#ff0000" />
<rect x="1121" y="384" width="1" height="17" fill="#ff0000" />
<rect x="1120" y="387" width="3" height="9" fill="#ff0000" />
<rect x="1125" y="384" width="1" height="9" fill="#00ff00" />
<rect x="1124" y="387" width="3" height="2" fill="#00ff00" />
<rect x="1129" y="297" width="1" height="67" fill="#00ff00" />
<rect x="1128" y="335" width="3" height="26" fill="#00ff00" />
<rect x="1133" y="286" width="1" height="75" fill="#ff0000" />
<rect x="1132" y="291" width="3" height="70" fill="#ff0000" />
<rect x="1137" y="288" width="1" height="31" fill="#00ff00" />
<rect x="1136" y="291" width="3" height="9" fill="#00ff00" />
<rect x="1141" y="263" width="1" height="42" fill="#ff0000" />
<rect x="1140" y="265" width="3" height="36" fill="#ff0000" />
<rect x="1145" y="232" width="1" height="79" fill="#ff0000" />
<rect x="1144" y="233" width="3" height="34" fill="#ff0000" />
<rect x="1149" y="232" width="1" height="33" fill="#00ff00" />
<rect x="1148" y="233" width="3" height="19" fill="#00ff00" />
<rect x="1153" y="234" width="1" height="56" fill="#ff0000" />
<rect x="1152" y="237" width="3" height="35" fill="#ff0000" />
<rect x="1157" y="177" width="1" height="67" fill="#ff0000" />
<rect x="1156" y="178" width="3" height="65" fill="#ff0000" />
<rect x="1161" y="78" width="1" height="110" fill="#ff0000" />
<rect x="1160" y="85" width="3" height="94" fill="#ff0000" />
<rect x="1165" y="48" width="1" height="89" fill="#00ff00" />
<rect x="1164" y="85" width="3" height="20" fill="#00ff00" />
<rect x="1169" y="84" width="1" height="107" fill="#00ff00" />
<rect x="1168" y="104" width="3" height="28" fill="#00ff00" />
<rect x="1173" y="109" width="1" height="29" fill="#ff0000" />
<rect x="1172" y="113" width="3" height="19" fill="#ff0000" />
<rect x="1177" y="82" width="1" height="59" fill="#ff0000" />
<rect x="1176" y="83" width="3" height="18" fill="#ff0000" />
<rect x="1181" y="78" width="1" height="52" fill="#00ff00" />
<rect x="1180" y="83" width="3" height="19" fill="#00ff00" />
<rect x="1185" y="88" width="1" height="63" fill="#00ff00" />
<rect x="1184" y="99" width="3" height="42" fill="#00ff00" />
<rect x="1189" y="138" width="1" height="92" fill="#00ff00" />
<rect x="1188" y="139" width="3" height="81" fill="#00ff00" />
<rect x="1193" y="188" width="1" height="47" fill="#ff0000" />
<rect x="1192" y="210" width="3" height="10" fill="#ff0000" />
<rect x="1197" y="206" width="1" height="41" fill="#00ff00" />
<rect x="1196" y="210" width="3" height="37" fill="#00ff00" />
<rect x="1201" y="180" width="1" height="49" fill="#ff0000" />
<rect x="1200" y="184" width="3" height="28" fill="#ff0000" />
<rect x="1205" y="135" width="1" height="77" fill="#00ff00" />
<rect x="1204" y="184" width="3" height="14" fill="#00ff00" />
<rect x="1209" y="155" width="1" height="74" fill="#ff0000" />
<rect x="1208" y="170" width="3" height="28" fill="#ff0000" />
<rect x="1213" y="149" width="1" height="61" fill="#00ff00" />
<rect x="1212" y="170" width="3" height="32" fill="#00ff00" />
<rect x="1217" y="169" width="1" height="37" fill="#ff0000" />
<rect x="1216" y="193" width="3" height="9" fill="#ff0000" />
<rect x="1221" y="185" width="1" height="13" fill="#ff0000" />
<rect x="1220" y="187" width="3" height="9" fill="#ff0000" />
<rect x="1225" y="159" width="1" height="51" fill="#00ff00" />
<rect x="1224" y="165" width="3" height="32" fill="#00ff00" />
<rect x="1229" y="191" width="1" height="55" fill="#00ff00" />
<rect x="1228" y="195" width="3" height="44" fill="#00ff00" />
<rect x="1233" y="210" width="1" height="36" fill="#ff0000" />
<rect x="1232" y="226" width="3" height="13" fill="#ff0000" />
<rect x="1237" y="209" width="1" height="41" fill="#00ff00" />
<rect x="1236" y="226" width="3" height="11" fill="#00ff00" />
<rect x="1241" y="220" width="1" height="30" fill="#00ff00" />
<rect x="1240" y="235" width="3" height="6" fill="#00ff00" />
<rect x="1245" y="238" width="1" height="6" fill="#00ff00" />
<rect x="1244" y="239" width="3" height="4" fill="#00ff00" />
<rect x="1249" y="234" width="1" height="18" fill="#00ff00" />
<rect x="1248" y="240" width="3" height="5" fill="#00ff00" />
<rect x="1253" y="242" width="1" height="29" fill="#00ff00" />
<rect x="1252" y="242" width="3" height="16" fill="#00ff00" />
<rect x="1257" y="197" width="1" height="68" fill="#ff0000" />
<rect x="1256" y="201" width="3" height="58" fill="#ff0000" />
<rect x="1261" y="188" width="1" height="43" fill="#ff0000" />
<rect x="1260" y="192" width="3" height="11" fill="#ff0000" />
<rect x="1265" y="181" width="1" height="50" fill="#00ff00" />
<rect x="1264" y="191" width="3" height="39" fill="#00ff00" />
<rect x="1269" y="220" width="1" height="9" fill="#00ff00" />
<rect x="1268" y="223" width="3" height="2" fill="#00ff00" />
</g>
<g clip-path="url(#mc)" fill="none" stroke-width="1" shape-rendering="crispEdges">
<polyline points="5.5,406.3 9.5,406.0 13.5,405.6 17.5,405.3 21.5,405.0 25.5,404.7 29.5,403.8 33.5,402.9 37.5,401.3 41.5,400.6 45.5,400.3 49.5,400.1 53.5,400.0 57.5,399.8 61.5,399.6 65.5,399.1 69.5,398.6 73.5,397.3 77.5,395.9 81.5,394.6 85.5,394.2 89.5,393.8 93.5,392.9 97.5,391.9 101.5,390.9 105.5,389.4 109.5,388.1 113.5,387.2 117.5,386.2 121.5,386.1 125.5,385.5 129.5,384.8 133.5,383.9 137.5,383.2 141.5,382.6 145.5,381.8 149.5,381.3 153.5,380.7 157.5,380.6 161.5,380.0 165.5,379.5 169.5,379.2 173.5,379.3 177.5,379.4 181.5,380.3 185.5,381.6 189.5,383.0 193.5,384.7 197.5,386.3 201.5,387.7 205.5,389.2 209.5,389.6 213.5,389.6 217.5,390.2 221.5,390.9 225.5,391.5 229.5,393.6 233.5,395.9 237.5,398.1 241.5,400.2 245.5,402.6 249.5,405.4 253.5,408.7 257.5,412.0 261.5,415.3 265.5,418.2 269.5,421.4 273.5,425.7 277.5,429.8 281.5,433.6 285.5,437.6 289.5,441.1 293.5,443.7 297.5,446.5 301.5,449.3 305.5,451.5 309.5,453.7 313.5,455.8 317.5,458.0 321.5,460.4 325.5,462.6 329.5,465.4 333.5,468.6 337.5,471.1 341.5,473.4 345.5,475.6 349.5,476.1 353.5,476.4 357.5,476.7 361.5,477.1 365.5,477.1 369.5,476.8 373.5,476.0 377.5,474.8 381.5,473.7 385.5,473.1 389.5,471.8 393.5,469.4 397.5,467.6 401.5,466.5 405.5,465.4 409.5,464.0 413.5,463.1 417.5,461.2 421.5,458.8 425.5,456.7 429.5,454.5 433.5,452.0 437.5,449.4 441.5,447.3 445.5,445.4 449.5,443.2 453.5,441.1 457.5,439.6 461.5,438.4 465.5,436.9 469.5,435.5 473.5,434.6 477.5,433.3 481.5,431.7 485.5,430.2 489.5,429.3 493.5,429.0 497.5,429.5 501.5,429.8 505.5,430.3 509.5,431.3 513.5,432.5 517.5,432.8 521.5,432.4 525.5,431.7 529.5,431.7 533.5,431.4 537.5,431.7 541.5,432.3 545.5,432.4 549.5,432.3 553.5,432.6 557.5,433.3 561.5,433.3 565.5,433.5 569.5,434.1 573.5,434.6 577.5,435.0 581.5,435.3 585.5,435.1 589.5,434.9 593.5,434.5 597.5,434.5 601.5,434.6 605.5,434.6 609.5,433.9 613.5,433.6 617.5,433.5 621.5,433.4 625.5,432.6 629.5,432.0 633.5,432.1 637.5,432.8 641.5,434.1 645.5,435.5 649.5,436.9 653.5,438.4 657.5,440.1 661.5,441.8 665.5,443.7 669.5,445.7 673.5,447.6 677.5,449.2 681.5,450.1 685.5,451.3 689.5,452.2 693.5,453.1 697.5,454.0 701.5,454.6 705.5,455.9 709.5,457.3 713.5,458.3 717.5,459.2 721.5,460.0 725.5,460.9 729.5,461.7 733.5,461.9 737.5,461.5 741.5,461.0 745.5,461.2 749.5,460.9 753.5,460.0 757.5,458.7 761.5,457.2 765.5,455.6 769.5,453.7 773.5,451.8 777.5,450.0 781.5,448.1 785.5,446.1 789.5,444.1 793.5,442.0 797.5,440.0 801.5,439.6 805.5,439.2 809.5,438.0 813.5,437.1 817.5,436.3 821.5,435.6 825.5,435.3 829.5,435.1 833.5,435.2 837.5,435.7 841.5,436.2 845.5,436.9 849.5,438.1 853.5,439.2 857.5,439.7 861.5,440.3 865.5,440.6 869.5,441.3 873.5,442.4 877.5,443.9 881.5,445.8 885.5,447.8 889.5,450.2 893.5,453.1 897.5,455.8 901.5,458.6 905.5,461.3 909.5,463.9 913.5,467.0 917.5,469.5 921.5,471.3 925.5,472.0 929.5,474.0 933.5,475.8 937.5,477.4 941.5,478.9 945.5,480.4 949.5,481.8 953.5,483.1 957.5,484.1 961.5,485.0 965.5,485.8 969.5,485.7 973.5,485.6 977.5,485.8 981.5,486.1 985.5,486.1 989.5,485.8 993.5,485.5 997.5,484.5 1001.5,483.2 1005.5,481.7 1009.5,479.8 1013.5,476.9 1017.5,474.1 1021.5,471.2 1025.5,468.3 1029.5,465.5 1033.5,462.3 1037.5,459.8 1041.5,457.8 1045.5,456.4 1049.5,454.5 1053.5,452.8 1057.5,451.1 1061.5,449.4 1065.5,447.7 1069.5,446.0 1073.5,444.5 1077.5,443.2 1081.5,441.3 1085.5,439.3 1089.5,437.6 1093.5,435.7 1097.5,433.1 1101.5,430.8 1105.5,428.8 1109.5,427.5 1113.5,425.7 1117.5,424.1 1121.5,422.3 1125.5,420.6 1129.5,418.2 1133.5,413.6 1137.5,409.5 1141.5,404.3 1145.5,398.1 1149.5,392.3 1153.5,386.4 1157.5,378.1 1161.5,366.6 1165.5,355.5 1169.5,345.5 1173.5,334.7 1177.5,322.9 1181.5,311.7 1185.5,301.8 1189.5,294.4 1193.5,286.6 1197.5,279.9 1201.5,271.7 1205.5,264.1 1209.5,255.7 1213.5,248.9 1217.5,242.4 1221.5,235.5 1225.5,228.7 1229.5,222.9 1233.5,217.3 1237.5,212.0 1241.5,207.1 1245.5,202.2 1249.5,198.4 1253.5,197.3 1257.5,194.0 1261.5,191.5 1265.5,191.4 1269.5,190.5" stroke="#0000cd"/>
<polyline points="5.5,408.6 9.5,408.3 13.5,408.0 17.5,407.9 21.5,407.7 25.5,407.4 29.5,406.1 33.5,404.0 37.5,401.0 41.5,398.2 45.5,396.0 49.5,393.7 53.5,392.2 57.5,391.6 61.5,389.3 65.5,387.7 69.5,386.7 73.5,385.2 77.5,383.4 81.5,381.5 85.5,380.1 89.5,380.8 93.5,382.3 97.5,382.1 101.5,382.1 105.5,382.4 109.5,382.2 113.5,380.9 117.5,381.5 121.5,381.3 125.5,381.4 129.5,381.9 133.5,382.0 137.5,382.0 141.5,382.9 145.5,382.5 149.5,381.5 153.5,380.2 157.5,379.4 161.5,377.6 165.5,375.9 169.5,376.1 173.5,376.6 177.5,377.1 181.5,378.1 185.5,380.7 189.5,384.7 193.5,388.4 197.5,391.4 201.5,394.3 205.5,397.0 209.5,399.9 213.5,401.6 217.5,404.1 221.5,406.6 225.5,408.7 229.5,412.8 233.5,416.4 237.5,419.6 241.5,421.4 245.5,423.4 249.5,426.4 253.5,429.8 257.5,433.9 261.5,438.8 265.5,443.8 269.5,449.7 273.5,456.1 277.5,462.8 281.5,467.7 285.5,470.2 289.5,472.7 293.5,474.4 297.5,476.2 301.5,478.1 305.5,479.5 309.5,481.2 313.5,482.3 317.5,483.0 321.5,484.7 325.5,485.2 329.5,485.0 333.5,484.7 337.5,484.5 341.5,483.4 345.5,482.7 349.5,482.2 353.5,480.6 357.5,478.5 361.5,476.3 365.5,473.5 369.5,471.5 373.5,468.3 377.5,464.8 381.5,462.6 385.5,460.3 389.5,456.6 393.5,452.4 397.5,450.3 401.5,448.4 405.5,447.2 409.5,446.2 413.5,445.3 417.5,442.0 421.5,439.0 425.5,436.3 429.5,435.2 433.5,433.4 437.5,431.0 441.5,429.4 445.5,428.7 449.5,428.9 453.5,427.9 457.5,426.8 461.5,425.5 465.5,424.5 469.5,423.0 473.5,423.6 477.5,423.7 481.5,422.8 485.5,421.5 489.5,422.8 493.5,424.6 497.5,426.7 501.5,429.0 505.5,432.6 509.5,435.6 513.5,437.2 517.5,438.4 521.5,438.8 525.5,439.0 529.5,440.0 533.5,441.4 537.5,442.1 541.5,443.4 545.5,442.9 549.5,442.2 553.5,440.2 557.5,438.6 561.5,435.8 565.5,433.3 569.5,432.3 573.5,431.7 577.5,432.2 581.5,433.2 585.5,431.9 589.5,430.4 593.5,429.5 597.5,428.3 601.5,427.6 605.5,426.6 609.5,425.5 613.5,425.2 617.5,427.1 621.5,428.8 625.5,429.2 629.5,430.1 633.5,431.1 637.5,432.9 641.5,436.5 645.5,440.5 649.5,445.1 653.5,449.8 657.5,453.9 661.5,458.9 665.5,464.0 669.5,468.2 673.5,470.4 677.5,472.5 681.5,473.3 685.5,474.5 689.5,475.4 693.5,475.2 697.5,474.9 701.5,474.2 705.5,472.6 709.5,470.8 713.5,468.5 717.5,465.5 721.5,462.5 725.5,459.2 729.5,455.7 733.5,452.3 737.5,451.6 741.5,449.8 745.5,448.5 749.5,446.8 753.5,443.9 757.5,441.6 761.5,439.4 765.5,437.0 769.5,435.0 773.5,433.8 777.5,432.5 781.5,431.4 785.5,430.7 789.5,430.3 793.5,428.5 797.5,427.4 801.5,427.0 805.5,427.9 809.5,428.4 813.5,428.9 817.5,430.0 821.5,431.3 825.5,433.2 829.5,435.2 833.5,436.7 837.5,438.8 841.5,441.3 845.5,443.7 849.5,447.5 853.5,450.6 857.5,451.9 861.5,452.2 865.5,453.9 869.5,455.9 873.5,457.2 877.5,459.4 881.5,461.9 885.5,464.2 889.5,467.1 893.5,471.3 897.5,474.4 901.5,477.9 905.5,480.4 909.5,483.2 913.5,487.0 917.5,490.1 921.5,492.7 925.5,493.8 929.5,496.1 933.5,497.2 937.5,497.8 941.5,497.9 945.5,498.0 949.5,496.5 953.5,495.2 957.5,493.4 961.5,492.2 965.5,490.6 969.5,487.7 973.5,485.1 977.5,483.2 981.5,482.3 985.5,479.8 989.5,477.4 993.5,474.4 997.5,471.3 1001.5,467.8 1005.5,464.1 1009.5,460.1 1013.5,455.9 1017.5,451.2 1021.5,446.7 1025.5,443.0 1029.5,440.1 1033.5,436.6 1037.5,433.7 1041.5,432.1 1045.5,430.7 1049.5,429.7 1053.5,429.2 1057.5,429.0 1061.5,428.7 1065.5,429.2 1069.5,430.2 1073.5,431.7 1077.5,433.5 1081.5,434.2 1085.5,434.4 1089.5,434.7 1093.5,433.4 1097.5,430.3 1101.5,427.3 1105.5,424.8 1109.5,423.2 1113.5,420.1 1117.5,417.2 1121.5,413.4 1125.5,409.7 1129.5,403.7 1133.5,392.5 1137.5,383.1 1141.5,371.7 1145.5,358.3 1149.5,347.2 1153.5,336.4 1157.5,321.0 1161.5,298.7 1165.5,276.6 1169.5,257.7 1173.5,237.7 1177.5,215.9 1181.5,195.4 1185.5,179.7 1189.5,174.6 1193.5,168.2 1197.5,166.9 1201.5,163.4 1205.5,159.5 1209.5,154.7 1213.5,156.4 1217.5,164.1 1221.5,170.0 1225.5,174.7 1229.5,183.6 1233.5,193.8 1237.5,203.5 1241.5,210.6 1245.5,212.3 1249.5,214.7 1253.5,215.5 1257.5,216.7 1261.5,216.3 1265.5,220.5 1269.5,222.2" stroke="#ff0000"/>
<polyline points="5.5,408.1 9.5,409.6 13.5,407.3 17.5,404.7 21.5,404.1 25.5,404.4 29.5,400.3 33.5,395.2 37.5,388.3 41.5,384.3 45.5,378.3 49.5,376.9 53.5,379.4 57.5,383.8 61.5,383.0 65.5,384.9 69.5,385.8 73.5,384.6 77.5,381.4 81.5,382.4 85.5,378.8 89.5,378.9 93.5,380.2 97.5,380.6 101.5,380.1 105.5,383.4 109.5,383.1 113.5,379.9 117.5,381.2 121.5,382.7 125.5,383.1 129.5,383.9 133.5,384.3 137.5,383.8 141.5,383.2 145.5,382.1 149.5,379.1 153.5,375.6 157.5,372.8 161.5,368.5 165.5,364.5 169.5,364.6 173.5,371.1 177.5,376.4 181.5,384.7 185.5,397.5 189.5,408.5 193.5,416.9 197.5,423.2 201.5,427.2 205.5,424.7 209.5,418.3 213.5,409.7 217.5,404.1 221.5,398.9 225.5,397.3 229.5,407.1 233.5,418.0 237.5,428.2 241.5,439.0 245.5,449.7 249.5,455.0 253.5,460.7 257.5,467.1 261.5,473.4 265.5,475.4 269.5,475.1 273.5,477.6 277.5,479.8 281.5,478.3 285.5,480.8 289.5,482.4 293.5,479.5 297.5,476.6 301.5,478.7 305.5,481.2 309.5,484.5 313.5,489.1 317.5,492.3 321.5,493.9 325.5,491.0 329.5,488.1 333.5,486.5 337.5,482.6 341.5,477.3 345.5,475.3 349.5,471.8 353.5,465.1 357.5,461.9 361.5,461.1 365.5,458.9 369.5,459.0 373.5,458.0 377.5,455.6 381.5,452.6 385.5,451.2 389.5,445.0 393.5,438.2 397.5,436.6 401.5,435.6 405.5,435.0 409.5,435.9 413.5,442.0 417.5,438.0 421.5,432.6 425.5,428.6 429.5,427.2 433.5,422.4 437.5,421.7 441.5,424.3 445.5,423.6 449.5,420.4 453.5,421.2 457.5,423.8 461.5,424.1 465.5,424.1 469.5,425.7 473.5,425.7 477.5,423.8 481.5,421.0 485.5,418.9 489.5,421.6 493.5,424.6 497.5,432.9 501.5,440.9 505.5,451.5 509.5,457.1 513.5,459.2 517.5,456.8 521.5,451.6 525.5,443.6 529.5,438.1 533.5,435.4 537.5,431.4 541.5,431.8 545.5,432.6 549.5,430.8 553.5,429.6 557.5,431.1 561.5,430.1 565.5,430.0 569.5,431.5 573.5,433.1 577.5,433.7 581.5,436.5 585.5,434.2 589.5,430.1 593.5,425.1 597.5,420.9 601.5,416.8 605.5,415.8 609.5,415.8 613.5,419.1 617.5,426.8 621.5,433.4 625.5,439.0 629.5,445.9 633.5,450.4 637.5,452.8 641.5,455.7 645.5,461.6 649.5,467.1 653.5,473.1 657.5,475.6 661.5,478.5 665.5,481.8 669.5,483.9 673.5,484.7 677.5,485.3 681.5,479.5 685.5,475.1 689.5,470.5 693.5,466.2 697.5,462.7 701.5,463.9 705.5,461.9 709.5,460.3 713.5,456.6 717.5,452.0 721.5,449.2 725.5,446.2 729.5,442.4 733.5,440.1 737.5,440.7 741.5,439.4 745.5,440.5 749.5,441.3 753.5,439.1 757.5,435.7 761.5,432.8 765.5,428.2 769.5,423.6 773.5,423.9 777.5,423.8 781.5,423.8 785.5,424.8 789.5,426.7 793.5,425.8 797.5,425.1 801.5,428.1 805.5,433.3 809.5,433.9 813.5,436.7 817.5,440.1 821.5,440.2 825.5,438.5 829.5,442.8 833.5,445.8 837.5,448.5 841.5,453.1 845.5,456.2 849.5,460.4 853.5,464.1 857.5,464.9 861.5,463.5 865.5,462.5 869.5,460.3 873.5,458.4 877.5,461.2 881.5,466.0 885.5,471.6 889.5,477.1 893.5,488.1 897.5,495.0 901.5,500.9 905.5,505.5 909.5,509.1 913.5,508.8 917.5,507.3 921.5,503.8 925.5,497.8 929.5,494.5 933.5,489.7 937.5,487.8 941.5,486.3 945.5,489.0 949.5,489.5 953.5,489.5 957.5,488.6 961.5,489.4 965.5,488.2 969.5,484.1 973.5,479.2 977.5,475.2 981.5,470.3 985.5,464.3 989.5,460.8 993.5,457.7 997.5,453.0 1001.5,448.4 1005.5,445.4 1009.5,440.8 1013.5,436.8 1017.5,433.0 1021.5,429.1 1025.5,425.1 1029.5,423.4 1033.5,421.2 1037.5,421.4 1041.5,423.4 1045.5,426.4 1049.5,428.5 1053.5,432.4 1057.5,435.3 1061.5,435.9 1065.5,436.6 1069.5,438.2 1073.5,439.8 1077.5,441.5 1081.5,440.7 1085.5,437.9 1089.5,433.8 1093.5,426.4 1097.5,414.5 1101.5,407.0 1105.5,401.7 1109.5,400.0 1113.5,397.9 1117.5,399.1 1121.5,397.7 1125.5,395.8 1129.5,385.2 1133.5,364.3 1137.5,345.4 1141.5,321.0 1145.5,290.0 1149.5,268.2 1153.5,257.5 1157.5,233.2 1161.5,197.2 1165.5,171.3 1169.5,147.3 1173.5,122.5 1177.5,103.6 1181.5,106.7 1185.5,113.9 1189.5,131.5 1193.5,150.9 1197.5,183.6 1201.5,200.3 1205.5,211.7 1209.5,201.9 1213.5,200.0 1217.5,189.4 1221.5,190.0 1225.5,189.7 1229.5,203.4 1233.5,208.5 1237.5,217.0 1241.5,227.5 1245.5,236.9 1249.5,237.9 1253.5,244.1 1257.5,237.2 1261.5,227.6 1265.5,225.0 1269.5,221.1" stroke="#ffa500"/>
</g>
<rect x="4" y="49" width="6" height="6" fill="#ff0000" />
<rect x="6" y="51" width="2" height="2" fill="#ffffff" />
<rect x="1591" y="49" width="6" height="6" fill="#ff0000" />
<rect x="1593" y="51" width="2" height="2" fill="#ffffff" />
<rect x="4" y="117" width="6" height="6" fill="#ff0000" />
<rect x="6" y="119" width="2" height="2" fill="#ffffff" />
<rect x="1591" y="117" width="6" height="6" fill="#ff0000" />
<rect x="1593" y="119" width="2" height="2" fill="#ffffff" />
<rect x="4" y="172" width="6" height="6" fill="#ff0000" />
<rect x="6" y="174" width="2" height="2" fill="#ffffff" />
<rect x="1591" y="172" width="6" height="6" fill="#ff0000" />
<rect x="1593" y="174" width="2" height="2" fill="#ffffff" />
<rect x="4" y="281" width="6" height="6" fill="#0000ff" />
<rect x="6" y="283" width="2" height="2" fill="#ffffff" />
<rect x="1591" y="281" width="6" height="6" fill="#0000ff" />
<rect x="1593" y="283" width="2" height="2" fill="#ffffff" />
<rect x="4" y="335" width="6" height="6" fill="#0000ff" />
<rect x="6" y="337" width="2" height="2" fill="#ffffff" />
<rect x="1591" y="335" width="6" height="6" fill="#0000ff" />
<rect x="1593" y="337" width="2" height="2" fill="#ffffff" />
<rect x="4" y="227" width="6" height="6" fill="#00ff00" />
<rect x="6" y="229" width="2" height="2" fill="#ffffff" />
<rect x="1591" y="227" width="6" height="6" fill="#00ff00" />
<rect x="1593" y="229" width="2" height="2" fill="#ffffff" />
<rect x="1599" y="219" width="41" height="11" fill="#000" />
<text x="1603" y="227" font-family="Liberation Sans, sans-serif" font-size="9.7" fill="#fff" textLength="33.61" lengthAdjust="spacingAndGlyphs">1.40226</text>
<rect x="1599" y="46" width="41" height="11" fill="#ff0000" />
<text x="1603" y="55" font-family="Liberation Sans, sans-serif" font-size="9.7" fill="#fff" textLength="33.61" lengthAdjust="spacingAndGlyphs">1.46506</text>
<rect x="1599" y="114" width="41" height="11" fill="#ff0000" />
<text x="1603" y="123" font-family="Liberation Sans, sans-serif" font-size="9.7" fill="#fff" textLength="33.61" lengthAdjust="spacingAndGlyphs">1.44021</text>
<rect x="1599" y="169" width="41" height="11" fill="#ff0000" />
<text x="1603" y="178" font-family="Liberation Sans, sans-serif" font-size="9.7" fill="#fff" textLength="33.61" lengthAdjust="spacingAndGlyphs">1.42010</text>
<rect x="1599" y="278" width="41" height="11" fill="#0000ff" />
<text x="1603" y="287" font-family="Liberation Sans, sans-serif" font-size="9.7" fill="#fff" textLength="33.61" lengthAdjust="spacingAndGlyphs">1.38026</text>
<rect x="1599" y="332" width="41" height="11" fill="#0000ff" />
<text x="1603" y="341" font-family="Liberation Sans, sans-serif" font-size="9.7" fill="#fff" textLength="33.61" lengthAdjust="spacingAndGlyphs">1.36052</text>
<rect x="1599" y="224" width="41" height="11" fill="#00ff00" />
<text x="1603" y="233" font-family="Liberation Sans, sans-serif" font-size="9.7" fill="#fff" textLength="33.61" lengthAdjust="spacingAndGlyphs">1.40000</text>
<path d="M8,30 L15,30 L11.5,34 Z" fill="#000"/>
<text x="20.5" y="35.2" font-family="Liberation Sans, sans-serif" font-size="9.7" fill="#000" stroke="#000" stroke-width="0.2" textLength="65.00" lengthAdjust="spacingAndGlyphs">USDCAD,Daily</text>
<text x="92.5" y="35.2" font-family="Liberation Sans, sans-serif" font-size="9.7" fill="#000" stroke="#000" stroke-width="0.2" textLength="140.50" lengthAdjust="spacingAndGlyphs">1.40267 1.40373 1.40086 1.40226</text>
<g shape-rendering="crispEdges">
<line x1="6" y1="559.5" x2="1597" y2="559.5" stroke="#c0c0c0" stroke-dasharray="3,3"/>
<line x1="6" y1="595.5" x2="1597" y2="595.5" stroke="#c0c0c0" stroke-dasharray="3,3"/>
</g>
<polyline points="5.5,578.0 9.5,579.6 13.5,575.7 17.5,576.4 21.5,574.8 25.5,579.1 29.5,571.2 33.5,566.7 37.5,564.4 41.5,570.0 45.5,569.5 49.5,571.7 53.5,574.7 57.5,575.7 61.5,569.7 65.5,575.4 69.5,575.2 73.5,573.3 77.5,570.2 81.5,573.3 85.5,569.1 89.5,577.4 93.5,578.2 97.5,573.2 101.5,573.9 105.5,577.6 109.5,577.3 113.5,572.2 117.5,576.8 121.5,577.9 125.5,579.0 129.5,579.9 133.5,573.2 137.5,575.7 141.5,576.7 145.5,576.7 149.5,572.9 153.5,566.0 157.5,571.0 161.5,568.6 165.5,569.7 169.5,576.7 173.5,583.2 177.5,584.1 181.5,587.6 185.5,594.6 189.5,595.7 193.5,596.2 197.5,591.3 201.5,590.3 205.5,585.5 209.5,578.6 213.5,575.2 217.5,577.8 221.5,578.1 225.5,581.8 229.5,594.1 233.5,592.6 237.5,593.4 241.5,594.2 245.5,596.2 249.5,599.4 253.5,598.5 257.5,599.9 261.5,600.4 265.5,593.0 269.5,593.9 273.5,597.1 277.5,598.2 281.5,589.8 285.5,591.7 289.5,591.1 293.5,586.2 297.5,587.9 301.5,590.9 305.5,593.3 309.5,594.2 313.5,592.2 317.5,591.2 321.5,591.6 325.5,583.4 329.5,584.7 333.5,586.2 337.5,579.0 341.5,576.1 345.5,577.5 349.5,575.3 353.5,570.0 357.5,572.2 361.5,575.5 365.5,573.4 369.5,577.3 373.5,569.7 377.5,568.6 381.5,570.2 385.5,572.2 389.5,565.8 393.5,559.8 397.5,571.2 401.5,573.5 405.5,575.6 409.5,572.6 413.5,574.8 417.5,566.4 421.5,566.1 425.5,571.5 429.5,573.1 433.5,569.4 437.5,567.5 441.5,573.8 445.5,572.4 449.5,569.9 453.5,573.3 457.5,574.2 461.5,575.9 465.5,573.5 469.5,573.5 473.5,573.5 477.5,570.5 481.5,570.3 485.5,569.1 489.5,581.5 493.5,582.1 497.5,589.1 501.5,588.2 505.5,591.5 509.5,590.8 513.5,582.5 517.5,580.9 521.5,574.1 525.5,572.8 529.5,577.6 533.5,577.1 537.5,573.0 541.5,575.9 545.5,575.2 549.5,574.2 553.5,575.1 557.5,577.2 561.5,573.8 565.5,575.4 569.5,578.9 573.5,579.9 577.5,579.5 581.5,581.8 585.5,569.6 589.5,568.3 593.5,567.3 597.5,569.4 601.5,572.8 605.5,569.1 609.5,570.5 613.5,578.8 617.5,589.5 621.5,589.1 625.5,582.4 629.5,585.6 633.5,586.3 637.5,591.4 641.5,592.0 645.5,592.9 649.5,594.8 653.5,596.1 657.5,594.4 661.5,595.8 665.5,597.1 669.5,597.3 673.5,595.0 677.5,592.6 681.5,575.1 685.5,580.6 689.5,580.1 693.5,579.8 697.5,580.1 701.5,577.5 705.5,575.0 709.5,575.7 713.5,569.9 717.5,568.1 721.5,571.2 725.5,568.5 729.5,567.0 733.5,565.6 737.5,573.0 741.5,570.5 745.5,574.9 749.5,572.2 753.5,564.4 757.5,567.3 761.5,566.3 765.5,565.5 769.5,563.5 773.5,568.5 777.5,570.0 781.5,568.9 785.5,571.4 789.5,571.1 793.5,567.1 797.5,569.9 801.5,580.7 805.5,587.4 809.5,575.5 813.5,577.1 817.5,580.1 821.5,579.8 825.5,582.2 829.5,585.2 833.5,583.5 837.5,585.8 841.5,589.6 845.5,588.1 849.5,592.6 853.5,589.3 857.5,583.5 861.5,582.5 865.5,582.2 869.5,584.9 873.5,582.8 877.5,589.2 881.5,592.4 885.5,593.7 889.5,595.3 893.5,601.8 897.5,597.4 901.5,598.2 905.5,596.3 909.5,595.9 913.5,597.5 917.5,589.0 921.5,584.9 925.5,577.0 929.5,582.5 933.5,581.4 937.5,582.4 941.5,580.1 945.5,582.4 949.5,583.2 953.5,580.5 957.5,579.3 961.5,581.4 965.5,578.6 969.5,571.6 973.5,568.0 977.5,569.5 981.5,569.1 985.5,565.0 989.5,564.5 993.5,561.9 997.5,560.0 1001.5,559.8 1005.5,559.3 1009.5,555.9 1013.5,554.8 1017.5,553.6 1021.5,553.2 1025.5,552.6 1029.5,555.4 1033.5,553.2 1037.5,561.6 1041.5,568.2 1045.5,570.5 1049.5,569.5 1053.5,571.5 1057.5,574.3 1061.5,571.7 1065.5,574.9 1069.5,576.8 1073.5,578.6 1077.5,581.6 1081.5,570.2 1085.5,567.0 1089.5,565.0 1093.5,559.0 1097.5,553.9 1101.5,558.2 1105.5,561.4 1109.5,570.7 1113.5,564.6 1117.5,564.2 1121.5,562.0 1125.5,562.8 1129.5,555.6 1133.5,546.8 1137.5,550.5 1141.5,547.4 1145.5,545.3 1149.5,551.7 1153.5,550.5 1157.5,546.4 1161.5,542.7 1165.5,547.2 1169.5,553.5 1173.5,552.4 1177.5,550.6 1181.5,554.6 1185.5,562.4 1189.5,574.4 1193.5,573.5 1197.5,578.1 1201.5,571.5 1205.5,573.1 1209.5,570.4 1213.5,574.4 1217.5,573.6 1221.5,572.9 1225.5,574.1 1229.5,580.0 1233.5,578.3 1237.5,579.6 1241.5,580.1 1245.5,580.5 1249.5,580.7 1253.5,582.9 1257.5,573.6 1261.5,572.4 1265.5,578.5 1269.5,577.8" fill="none" stroke="#1e90ff" stroke-width="1" shape-rendering="crispEdges"/>
<text x="9.4" y="543.8" font-family="Liberation Sans, sans-serif" font-size="9.7" fill="#000" stroke="#000" stroke-width="0.2" textLength="67.00" lengthAdjust="spacingAndGlyphs">RSI(14) 50.2071</text>
<text x="1601.3" y="542.1" font-family="Liberation Sans, sans-serif" font-size="9.7" fill="#000" stroke="#000" stroke-width="0.2" textLength="15.52" lengthAdjust="spacingAndGlyphs">100</text>
<text x="1600.2" y="563.2" font-family="Liberation Sans, sans-serif" font-size="9.7" fill="#000" stroke="#000" stroke-width="0.2" textLength="10.34" lengthAdjust="spacingAndGlyphs">70</text>
<text x="1600.2" y="599.1" font-family="Liberation Sans, sans-serif" font-size="9.7" fill="#000" stroke="#000" stroke-width="0.2" textLength="10.34" lengthAdjust="spacingAndGlyphs">30</text>
<text x="1601.3" y="619.9" font-family="Liberation Sans, sans-serif" font-size="9.7" fill="#000" stroke="#000" stroke-width="0.2" textLength="5.17" lengthAdjust="spacingAndGlyphs">0</text>
<rect x="1598" y="533" width="1" height="1" fill="#000" />
<g shape-rendering="crispEdges">
<rect x="5" y="695" width="1" height="2" fill="#c0c0c0" />
<rect x="9" y="695" width="1" height="2" fill="#c0c0c0" />
<rect x="13" y="695" width="1" height="1" fill="#c0c0c0" />
<rect x="17" y="695" width="1" height="1" fill="#c0c0c0" />
<rect x="21" y="695" width="1" height="1" fill="#c0c0c0" />
<rect x="25" y="695" width="1" height="1" fill="#c0c0c0" />
<rect x="29" y="694" width="1" height="2" fill="#c0c0c0" />
<rect x="33" y="693" width="1" height="3" fill="#c0c0c0" />
<rect x="37" y="691" width="1" height="5" fill="#c0c0c0" />
<rect x="41" y="691" width="1" height="5" fill="#c0c0c0" />
<rect x="45" y="690" width="1" height="6" fill="#c0c0c0" />
<rect x="49" y="690" width="1" height="6" fill="#c0c0c0" />
<rect x="53" y="690" width="1" height="6" fill="#c0c0c0" />
<rect x="57" y="691" width="1" height="5" fill="#c0c0c0" />
<rect x="61" y="690" width="1" height="6" fill="#c0c0c0" />
<rect x="65" y="691" width="1" height="5" fill="#c0c0c0" />
<rect x="69" y="691" width="1" height="5" fill="#c0c0c0" />
<rect x="73" y="691" width="1" height="5" fill="#c0c0c0" />
<rect x="77" y="691" width="1" height="5" fill="#c0c0c0" />
<rect x="81" y="691" width="1" height="5" fill="#c0c0c0" />
<rect x="85" y="690" width="1" height="6" fill="#c0c0c0" />
<rect x="89" y="691" width="1" height="5" fill="#c0c0c0" />
<rect x="93" y="692" width="1" height="4" fill="#c0c0c0" />
<rect x="97" y="692" width="1" height="4" fill="#c0c0c0" />
<rect x="101" y="692" width="1" height="4" fill="#c0c0c0" />
<rect x="105" y="692" width="1" height="4" fill="#c0c0c0" />
<rect x="109" y="693" width="1" height="3" fill="#c0c0c0" />
<rect x="113" y="692" width="1" height="4" fill="#c0c0c0" />
<rect x="117" y="693" width="1" height="3" fill="#c0c0c0" />
<rect x="121" y="693" width="1" height="3" fill="#c0c0c0" />
<rect x="125" y="694" width="1" height="2" fill="#c0c0c0" />
<rect x="129" y="694" width="1" height="2" fill="#c0c0c0" />
<rect x="133" y="694" width="1" height="2" fill="#c0c0c0" />
<rect x="137" y="694" width="1" height="2" fill="#c0c0c0" />
<rect x="141" y="694" width="1" height="2" fill="#c0c0c0" />
<rect x="145" y="694" width="1" height="2" fill="#c0c0c0" />
<rect x="149" y="694" width="1" height="2" fill="#c0c0c0" />
<rect x="153" y="692" width="1" height="4" fill="#c0c0c0" />
<rect x="157" y="692" width="1" height="4" fill="#c0c0c0" />
<rect x="161" y="691" width="1" height="5" fill="#c0c0c0" />
<rect x="165" y="691" width="1" height="5" fill="#c0c0c0" />
<rect x="169" y="691" width="1" height="5" fill="#c0c0c0" />
<rect x="173" y="693" width="1" height="3" fill="#c0c0c0" />
<rect x="177" y="694" width="1" height="2" fill="#c0c0c0" />
<rect x="181" y="695" width="1" height="1" fill="#c0c0c0" />
<rect x="185" y="695" width="1" height="3" fill="#c0c0c0" />
<rect x="189" y="695" width="1" height="6" fill="#c0c0c0" />
<rect x="193" y="695" width="1" height="8" fill="#c0c0c0" />
<rect x="197" y="695" width="1" height="8" fill="#c0c0c0" />
<rect x="201" y="695" width="1" height="9" fill="#c0c0c0" />
<rect x="205" y="695" width="1" height="9" fill="#c0c0c0" />
<rect x="209" y="695" width="1" height="8" fill="#c0c0c0" />
<rect x="213" y="695" width="1" height="6" fill="#c0c0c0" />
<rect x="217" y="695" width="1" height="5" fill="#c0c0c0" />
<rect x="221" y="695" width="1" height="4" fill="#c0c0c0" />
<rect x="225" y="695" width="1" height="4" fill="#c0c0c0" />
<rect x="229" y="695" width="1" height="7" fill="#c0c0c0" />
<rect x="233" y="695" width="1" height="8" fill="#c0c0c0" />
<rect x="237" y="695" width="1" height="10" fill="#c0c0c0" />
<rect x="241" y="695" width="1" height="11" fill="#c0c0c0" />
<rect x="245" y="695" width="1" height="12" fill="#c0c0c0" />
<rect x="249" y="695" width="1" height="14" fill="#c0c0c0" />
<rect x="253" y="695" width="1" height="15" fill="#c0c0c0" />
<rect x="257" y="695" width="1" height="16" fill="#c0c0c0" />
<rect x="261" y="695" width="1" height="17" fill="#c0c0c0" />
<rect x="265" y="695" width="1" height="17" fill="#c0c0c0" />
<rect x="269" y="695" width="1" height="17" fill="#c0c0c0" />
<rect x="273" y="695" width="1" height="17" fill="#c0c0c0" />
<rect x="277" y="695" width="1" height="18" fill="#c0c0c0" />
<rect x="281" y="695" width="1" height="17" fill="#c0c0c0" />
<rect x="285" y="695" width="1" height="17" fill="#c0c0c0" />
<rect x="289" y="695" width="1" height="16" fill="#c0c0c0" />
<rect x="293" y="695" width="1" height="15" fill="#c0c0c0" />
<rect x="297" y="695" width="1" height="14" fill="#c0c0c0" />
<rect x="301" y="695" width="1" height="14" fill="#c0c0c0" />
<rect x="305" y="695" width="1" height="14" fill="#c0c0c0" />
<rect x="309" y="695" width="1" height="14" fill="#c0c0c0" />
<rect x="313" y="695" width="1" height="14" fill="#c0c0c0" />
<rect x="317" y="695" width="1" height="14" fill="#c0c0c0" />
<rect x="321" y="695" width="1" height="13" fill="#c0c0c0" />
<rect x="325" y="695" width="1" height="12" fill="#c0c0c0" />
<rect x="329" y="695" width="1" height="11" fill="#c0c0c0" />
<rect x="333" y="695" width="1" height="10" fill="#c0c0c0" />
<rect x="337" y="695" width="1" height="9" fill="#c0c0c0" />
<rect x="341" y="695" width="1" height="7" fill="#c0c0c0" />
<rect x="345" y="695" width="1" height="6" fill="#c0c0c0" />
<rect x="349" y="695" width="1" height="5" fill="#c0c0c0" />
<rect x="353" y="695" width="1" height="3" fill="#c0c0c0" />
<rect x="357" y="695" width="1" height="2" fill="#c0c0c0" />
<rect x="361" y="695" width="1" height="1" fill="#c0c0c0" />
<rect x="365" y="695" width="1" height="1" fill="#c0c0c0" />
<rect x="369" y="695" width="1" height="1" fill="#c0c0c0" />
<rect x="373" y="694" width="1" height="2" fill="#c0c0c0" />
<rect x="377" y="693" width="1" height="3" fill="#c0c0c0" />
<rect x="381" y="693" width="1" height="3" fill="#c0c0c0" />
<rect x="385" y="692" width="1" height="4" fill="#c0c0c0" />
<rect x="389" y="691" width="1" height="5" fill="#c0c0c0" />
<rect x="393" y="689" width="1" height="7" fill="#c0c0c0" />
<rect x="397" y="689" width="1" height="7" fill="#c0c0c0" />
<rect x="401" y="689" width="1" height="7" fill="#c0c0c0" />
<rect x="405" y="690" width="1" height="6" fill="#c0c0c0" />
<rect x="409" y="690" width="1" height="6" fill="#c0c0c0" />
<rect x="413" y="690" width="1" height="6" fill="#c0c0c0" />
<rect x="417" y="689" width="1" height="7" fill="#c0c0c0" />
<rect x="421" y="688" width="1" height="8" fill="#c0c0c0" />
<rect x="425" y="688" width="1" height="8" fill="#c0c0c0" />
<rect x="429" y="688" width="1" height="8" fill="#c0c0c0" />
<rect x="433" y="688" width="1" height="8" fill="#c0c0c0" />
<rect x="437" y="687" width="1" height="9" fill="#c0c0c0" />
<rect x="441" y="688" width="1" height="8" fill="#c0c0c0" />
<rect x="445" y="688" width="1" height="8" fill="#c0c0c0" />
<rect x="449" y="688" width="1" height="8" fill="#c0c0c0" />
<rect x="453" y="688" width="1" height="8" fill="#c0c0c0" />
<rect x="457" y="689" width="1" height="7" fill="#c0c0c0" />
<rect x="461" y="690" width="1" height="6" fill="#c0c0c0" />
<rect x="465" y="690" width="1" height="6" fill="#c0c0c0" />
<rect x="469" y="690" width="1" height="6" fill="#c0c0c0" />
<rect x="473" y="690" width="1" height="6" fill="#c0c0c0" />
<rect x="477" y="690" width="1" height="6" fill="#c0c0c0" />
<rect x="481" y="690" width="1" height="6" fill="#c0c0c0" />
<rect x="485" y="690" width="1" height="6" fill="#c0c0c0" />
<rect x="489" y="691" width="1" height="5" fill="#c0c0c0" />
<rect x="493" y="693" width="1" height="3" fill="#c0c0c0" />
<rect x="497" y="695" width="1" height="1" fill="#c0c0c0" />
<rect x="501" y="695" width="1" height="1" fill="#c0c0c0" />
<rect x="505" y="695" width="1" height="3" fill="#c0c0c0" />
<rect x="509" y="695" width="1" height="4" fill="#c0c0c0" />
<rect x="513" y="695" width="1" height="4" fill="#c0c0c0" />
<rect x="517" y="695" width="1" height="4" fill="#c0c0c0" />
<rect x="521" y="695" width="1" height="3" fill="#c0c0c0" />
<rect x="525" y="695" width="1" height="2" fill="#c0c0c0" />
<rect x="529" y="695" width="1" height="2" fill="#c0c0c0" />
<rect x="533" y="695" width="1" height="1" fill="#c0c0c0" />
<rect x="537" y="695" width="1" height="1" fill="#c0c0c0" />
<rect x="541" y="695" width="1" height="1" fill="#c0c0c0" />
<rect x="545" y="695" width="1" height="1" fill="#c0c0c0" />
<rect x="549" y="694" width="1" height="2" fill="#c0c0c0" />
<rect x="553" y="694" width="1" height="2" fill="#c0c0c0" />
<rect x="557" y="694" width="1" height="2" fill="#c0c0c0" />
<rect x="561" y="694" width="1" height="2" fill="#c0c0c0" />
<rect x="565" y="694" width="1" height="2" fill="#c0c0c0" />
<rect x="569" y="694" width="1" height="2" fill="#c0c0c0" />
<rect x="573" y="695" width="1" height="1" fill="#c0c0c0" />
<rect x="577" y="695" width="1" height="1" fill="#c0c0c0" />
<rect x="581" y="695" width="1" height="1" fill="#c0c0c0" />
<rect x="585" y="694" width="1" height="2" fill="#c0c0c0" />
<rect x="589" y="693" width="1" height="3" fill="#c0c0c0" />
<rect x="593" y="693" width="1" height="3" fill="#c0c0c0" />
<rect x="597" y="692" width="1" height="4" fill="#c0c0c0" />
<rect x="601" y="692" width="1" height="4" fill="#c0c0c0" />
<rect x="605" y="692" width="1" height="4" fill="#c0c0c0" />
<rect x="609" y="691" width="1" height="5" fill="#c0c0c0" />
<rect x="613" y="692" width="1" height="4" fill="#c0c0c0" />
<rect x="617" y="694" width="1" height="2" fill="#c0c0c0" />
<rect x="621" y="695" width="1" height="1" fill="#c0c0c0" />
<rect x="625" y="695" width="1" height="2" fill="#c0c0c0" />
<rect x="629" y="695" width="1" height="2" fill="#c0c0c0" />
<rect x="633" y="695" width="1" height="3" fill="#c0c0c0" />
<rect x="637" y="695" width="1" height="5" fill="#c0c0c0" />
<rect x="641" y="695" width="1" height="6" fill="#c0c0c0" />
<rect x="645" y="695" width="1" height="7" fill="#c0c0c0" />
<rect x="649" y="695" width="1" height="8" fill="#c0c0c0" />
<rect x="653" y="695" width="1" height="9" fill="#c0c0c0" />
<rect x="657" y="695" width="1" height="10" fill="#c0c0c0" />
<rect x="661" y="695" width="1" height="10" fill="#c0c0c0" />
<rect x="665" y="695" width="1" height="11" fill="#c0c0c0" />
<rect x="669" y="695" width="1" height="11" fill="#c0c0c0" />
<rect x="673" y="695" width="1" height="12" fill="#c0c0c0" />
<rect x="677" y="695" width="1" height="11" fill="#c0c0c0" />
<rect x="681" y="695" width="1" height="9" fill="#c0c0c0" />
<rect x="685" y="695" width="1" height="8" fill="#c0c0c0" />
<rect x="689" y="695" width="1" height="7" fill="#c0c0c0" />
<rect x="693" y="695" width="1" height="6" fill="#c0c0c0" />
<rect x="697" y="695" width="1" height="6" fill="#c0c0c0" />
<rect x="701" y="695" width="1" height="5" fill="#c0c0c0" />
<rect x="705" y="695" width="1" height="4" fill="#c0c0c0" />
<rect x="709" y="695" width="1" height="3" fill="#c0c0c0" />
<rect x="713" y="695" width="1" height="2" fill="#c0c0c0" />
<rect x="717" y="695" width="1" height="1" fill="#c0c0c0" />
<rect x="721" y="695" width="1" height="1" fill="#c0c0c0" />
<rect x="725" y="694" width="1" height="2" fill="#c0c0c0" />
<rect x="729" y="693" width="1" height="3" fill="#c0c0c0" />
<rect x="733" y="692" width="1" height="4" fill="#c0c0c0" />
<rect x="737" y="692" width="1" height="4" fill="#c0c0c0" />
<rect x="741" y="692" width="1" height="4" fill="#c0c0c0" />
<rect x="745" y="692" width="1" height="4" fill="#c0c0c0" />
<rect x="749" y="692" width="1" height="4" fill="#c0c0c0" />
<rect x="753" y="691" width="1" height="5" fill="#c0c0c0" />
<rect x="757" y="690" width="1" height="6" fill="#c0c0c0" />
<rect x="761" y="690" width="1" height="6" fill="#c0c0c0" />
<rect x="765" y="689" width="1" height="7" fill="#c0c0c0" />
<rect x="769" y="689" width="1" height="7" fill="#c0c0c0" />
<rect x="773" y="689" width="1" height="7" fill="#c0c0c0" />
<rect x="777" y="689" width="1" height="7" fill="#c0c0c0" />
<rect x="781" y="689" width="1" height="7" fill="#c0c0c0" />
<rect x="785" y="689" width="1" height="7" fill="#c0c0c0" />
<rect x="789" y="690" width="1" height="6" fill="#c0c0c0" />
<rect x="793" y="690" width="1" height="6" fill="#c0c0c0" />
<rect x="797" y="690" width="1" height="6" fill="#c0c0c0" />
<rect x="801" y="691" width="1" height="5" fill="#c0c0c0" />
<rect x="805" y="693" width="1" height="3" fill="#c0c0c0" />
<rect x="809" y="693" width="1" height="3" fill="#c0c0c0" />
<rect x="813" y="693" width="1" height="3" fill="#c0c0c0" />
<rect x="817" y="694" width="1" height="2" fill="#c0c0c0" />
<rect x="821" y="694" width="1" height="2" fill="#c0c0c0" />
<rect x="825" y="695" width="1" height="1" fill="#c0c0c0" />
<rect x="829" y="695" width="1" height="1" fill="#c0c0c0" />
<rect x="833" y="695" width="1" height="2" fill="#c0c0c0" />
<rect x="837" y="695" width="1" height="2" fill="#c0c0c0" />
<rect x="841" y="695" width="1" height="3" fill="#c0c0c0" />
<rect x="845" y="695" width="1" height="4" fill="#c0c0c0" />
<rect x="849" y="695" width="1" height="5" fill="#c0c0c0" />
<rect x="853" y="695" width="1" height="6" fill="#c0c0c0" />
<rect x="857" y="695" width="1" height="6" fill="#c0c0c0" />
<rect x="861" y="695" width="1" height="6" fill="#c0c0c0" />
<rect x="865" y="695" width="1" height="5" fill="#c0c0c0" />
<rect x="869" y="695" width="1" height="5" fill="#c0c0c0" />
<rect x="873" y="695" width="1" height="5" fill="#c0c0c0" />
<rect x="877" y="695" width="1" height="6" fill="#c0c0c0" />
<rect x="881" y="695" width="1" height="7" fill="#c0c0c0" />
<rect x="885" y="695" width="1" height="7" fill="#c0c0c0" />
<rect x="889" y="695" width="1" height="8" fill="#c0c0c0" />
<rect x="893" y="695" width="1" height="10" fill="#c0c0c0" />
<rect x="897" y="695" width="1" height="12" fill="#c0c0c0" />
<rect x="901" y="695" width="1" height="12" fill="#c0c0c0" />
<rect x="905" y="695" width="1" height="13" fill="#c0c0c0" />
<rect x="909" y="695" width="1" height="13" fill="#c0c0c0" />
<rect x="913" y="695" width="1" height="13" fill="#c0c0c0" />
<rect x="917" y="695" width="1" height="13" fill="#c0c0c0" />
<rect x="921" y="695" width="1" height="12" fill="#c0c0c0" />
<rect x="925" y="695" width="1" height="10" fill="#c0c0c0" />
<rect x="929" y="695" width="1" height="9" fill="#c0c0c0" />
<rect x="933" y="695" width="1" height="8" fill="#c0c0c0" />
<rect x="937" y="695" width="1" height="7" fill="#c0c0c0" />
<rect x="941" y="695" width="1" height="7" fill="#c0c0c0" />
<rect x="945" y="695" width="1" height="6" fill="#c0c0c0" />
<rect x="949" y="695" width="1" height="6" fill="#c0c0c0" />
<rect x="953" y="695" width="1" height="5" fill="#c0c0c0" />
<rect x="957" y="695" width="1" height="5" fill="#c0c0c0" />
<rect x="961" y="695" width="1" height="4" fill="#c0c0c0" />
<rect x="965" y="695" width="1" height="4" fill="#c0c0c0" />
<rect x="969" y="695" width="1" height="3" fill="#c0c0c0" />
<rect x="973" y="695" width="1" height="1" fill="#c0c0c0" />
<rect x="977" y="695" width="1" height="1" fill="#c0c0c0" />
<rect x="981" y="694" width="1" height="2" fill="#c0c0c0" />
<rect x="985" y="693" width="1" height="3" fill="#c0c0c0" />
<rect x="989" y="692" width="1" height="4" fill="#c0c0c0" />
<rect x="993" y="691" width="1" height="5" fill="#c0c0c0" />
<rect x="997" y="689" width="1" height="7" fill="#c0c0c0" />
<rect x="1001" y="689" width="1" height="7" fill="#c0c0c0" />
<rect x="1005" y="688" width="1" height="8" fill="#c0c0c0" />
<rect x="1009" y="687" width="1" height="9" fill="#c0c0c0" />
<rect x="1013" y="686" width="1" height="10" fill="#c0c0c0" />
<rect x="1017" y="685" width="1" height="11" fill="#c0c0c0" />
<rect x="1021" y="684" width="1" height="12" fill="#c0c0c0" />
<rect x="1025" y="684" width="1" height="12" fill="#c0c0c0" />
<rect x="1029" y="684" width="1" height="12" fill="#c0c0c0" />
<rect x="1033" y="684" width="1" height="12" fill="#c0c0c0" />
<rect x="1037" y="684" width="1" height="12" fill="#c0c0c0" />
<rect x="1041" y="685" width="1" height="11" fill="#c0c0c0" />
<rect x="1045" y="686" width="1" height="10" fill="#c0c0c0" />
<rect x="1049" y="687" width="1" height="9" fill="#c0c0c0" />
<rect x="1053" y="687" width="1" height="9" fill="#c0c0c0" />
<rect x="1057" y="688" width="1" height="8" fill="#c0c0c0" />
<rect x="1061" y="689" width="1" height="7" fill="#c0c0c0" />
<rect x="1065" y="690" width="1" height="6" fill="#c0c0c0" />
<rect x="1069" y="691" width="1" height="5" fill="#c0c0c0" />
<rect x="1073" y="691" width="1" height="5" fill="#c0c0c0" />
<rect x="1077" y="692" width="1" height="4" fill="#c0c0c0" />
<rect x="1081" y="692" width="1" height="4" fill="#c0c0c0" />
<rect x="1085" y="692" width="1" height="4" fill="#c0c0c0" />
<rect x="1089" y="691" width="1" height="5" fill="#c0c0c0" />
<rect x="1093" y="690" width="1" height="6" fill="#c0c0c0" />
<rect x="1097" y="688" width="1" height="8" fill="#c0c0c0" />
<rect x="1101" y="686" width="1" height="10" fill="#c0c0c0" />
<rect x="1105" y="686" width="1" height="10" fill="#c0c0c0" />
<rect x="1109" y="686" width="1" height="10" fill="#c0c0c0" />
<rect x="1113" y="686" width="1" height="10" fill="#c0c0c0" />
<rect x="1117" y="686" width="1" height="10" fill="#c0c0c0" />
<rect x="1121" y="685" width="1" height="11" fill="#c0c0c0" />
<rect x="1125" y="685" width="1" height="11" fill="#c0c0c0" />
<rect x="1129" y="683" width="1" height="13" fill="#c0c0c0" />
<rect x="1133" y="677" width="1" height="19" fill="#c0c0c0" />
<rect x="1137" y="674" width="1" height="22" fill="#c0c0c0" />
<rect x="1141" y="669" width="1" height="27" fill="#c0c0c0" />
<rect x="1145" y="664" width="1" height="32" fill="#c0c0c0" />
<rect x="1149" y="661" width="1" height="35" fill="#c0c0c0" />
<rect x="1153" y="659" width="1" height="37" fill="#c0c0c0" />
<rect x="1157" y="654" width="1" height="42" fill="#c0c0c0" />
<rect x="1161" y="644" width="1" height="52" fill="#c0c0c0" />
<rect x="1165" y="639" width="1" height="57" fill="#c0c0c0" />
<rect x="1169" y="637" width="1" height="59" fill="#c0c0c0" />
<rect x="1173" y="635" width="1" height="61" fill="#c0c0c0" />
<rect x="1177" y="632" width="1" height="64" fill="#c0c0c0" />
<rect x="1181" y="632" width="1" height="64" fill="#c0c0c0" />
<rect x="1185" y="635" width="1" height="61" fill="#c0c0c0" />
<rect x="1189" y="642" width="1" height="54" fill="#c0c0c0" />
<rect x="1193" y="649" width="1" height="47" fill="#c0c0c0" />
<rect x="1197" y="656" width="1" height="40" fill="#c0c0c0" />
<rect x="1201" y="659" width="1" height="37" fill="#c0c0c0" />
<rect x="1205" y="662" width="1" height="34" fill="#c0c0c0" />
<rect x="1209" y="663" width="1" height="33" fill="#c0c0c0" />
<rect x="1213" y="666" width="1" height="30" fill="#c0c0c0" />
<rect x="1217" y="669" width="1" height="27" fill="#c0c0c0" />
<rect x="1221" y="671" width="1" height="25" fill="#c0c0c0" />
<rect x="1225" y="673" width="1" height="23" fill="#c0c0c0" />
<rect x="1229" y="677" width="1" height="19" fill="#c0c0c0" />
<rect x="1233" y="680" width="1" height="16" fill="#c0c0c0" />
<rect x="1237" y="684" width="1" height="12" fill="#c0c0c0" />
<rect x="1241" y="686" width="1" height="10" fill="#c0c0c0" />
<rect x="1245" y="689" width="1" height="7" fill="#c0c0c0" />
<rect x="1249" y="691" width="1" height="5" fill="#c0c0c0" />
<rect x="1253" y="694" width="1" height="2" fill="#c0c0c0" />
<rect x="1257" y="692" width="1" height="4" fill="#c0c0c0" />
<rect x="1261" y="691" width="1" height="5" fill="#c0c0c0" />
<rect x="1265" y="692" width="1" height="4" fill="#c0c0c0" />
<rect x="1269" y="692" width="1" height="4" fill="#c0c0c0" />
</g>
<polyline points="5.5,694.9 9.5,695.2 13.5,695.4 17.5,695.6 21.5,695.7 25.5,695.9 29.5,695.9 33.5,695.8 37.5,695.5 41.5,694.8 45.5,694.1 49.5,693.4 53.5,692.8 57.5,692.3 61.5,691.7 65.5,691.3 69.5,691.1 73.5,691.1 77.5,691.2 81.5,691.2 85.5,691.3 89.5,691.4 93.5,691.5 97.5,691.6 101.5,691.7 105.5,691.8 109.5,692.0 113.5,692.1 117.5,692.3 121.5,692.6 125.5,692.9 129.5,693.2 133.5,693.4 137.5,693.6 141.5,693.8 145.5,693.9 149.5,694.1 153.5,694.0 157.5,693.9 161.5,693.6 165.5,693.3 169.5,693.0 173.5,692.9 177.5,693.0 181.5,693.1 185.5,693.7 189.5,694.6 193.5,695.8 197.5,697.2 201.5,698.6 205.5,700.0 209.5,701.1 213.5,701.8 217.5,702.3 221.5,702.4 225.5,702.3 229.5,702.2 233.5,702.2 237.5,702.3 241.5,702.5 245.5,703.1 249.5,704.0 253.5,705.1 257.5,706.4 261.5,707.9 265.5,709.0 269.5,710.0 273.5,710.8 277.5,711.5 281.5,712.1 285.5,712.3 289.5,712.4 293.5,712.2 297.5,711.9 301.5,711.5 305.5,711.2 309.5,710.8 313.5,710.4 317.5,710.0 321.5,709.7 325.5,709.2 329.5,708.8 333.5,708.4 337.5,707.8 341.5,707.1 345.5,706.2 349.5,705.2 353.5,704.0 357.5,702.7 361.5,701.6 365.5,700.4 369.5,699.3 373.5,698.3 377.5,697.3 381.5,696.3 385.5,695.5 389.5,694.7 393.5,693.8 397.5,693.0 401.5,692.3 405.5,691.6 409.5,691.1 413.5,690.8 417.5,690.3 421.5,689.8 425.5,689.5 429.5,689.4 433.5,689.3 437.5,689.1 441.5,688.8 445.5,688.7 449.5,688.4 453.5,688.4 457.5,688.5 461.5,688.7 465.5,688.8 469.5,689.1 473.5,689.4 477.5,689.7 481.5,689.9 485.5,690.2 489.5,690.5 493.5,690.9 497.5,691.5 501.5,692.2 505.5,693.1 509.5,694.1 513.5,695.1 517.5,696.2 521.5,697.1 525.5,697.7 529.5,698.2 533.5,698.4 537.5,698.3 541.5,698.0 545.5,697.4 549.5,696.9 553.5,696.3 557.5,695.9 561.5,695.6 565.5,695.3 569.5,695.1 573.5,695.0 577.5,695.0 581.5,695.0 585.5,695.0 589.5,694.9 593.5,694.7 597.5,694.5 601.5,694.3 605.5,694.0 609.5,693.6 613.5,693.3 617.5,693.2 621.5,693.4 625.5,693.7 629.5,694.3 633.5,695.0 637.5,695.8 641.5,696.8 645.5,698.0 649.5,699.3 653.5,700.4 657.5,701.4 661.5,702.3 665.5,703.3 669.5,704.2 673.5,705.0 677.5,705.5 681.5,705.8 685.5,705.8 689.5,705.5 693.5,705.1 697.5,704.6 701.5,703.9 705.5,703.0 709.5,702.1 713.5,701.0 717.5,700.1 721.5,699.1 725.5,698.2 729.5,697.3 733.5,696.3 737.5,695.5 741.5,694.7 745.5,694.0 749.5,693.5 753.5,693.0 757.5,692.5 761.5,692.1 765.5,691.7 769.5,691.3 773.5,690.9 777.5,690.6 781.5,690.3 785.5,690.0 789.5,689.9 793.5,689.8 797.5,689.8 801.5,690.0 805.5,690.5 809.5,690.9 813.5,691.4 817.5,691.9 821.5,692.4 825.5,693.0 829.5,693.7 833.5,694.5 837.5,695.2 841.5,695.8 845.5,696.5 849.5,697.3 853.5,698.1 857.5,698.8 861.5,699.4 865.5,699.9 869.5,700.3 873.5,700.6 877.5,700.8 881.5,701.1 885.5,701.3 889.5,701.6 893.5,702.1 897.5,702.7 901.5,703.5 905.5,704.4 909.5,705.3 913.5,706.2 917.5,706.9 921.5,707.3 925.5,707.5 929.5,707.3 933.5,707.0 937.5,706.4 941.5,705.7 945.5,704.9 949.5,704.1 953.5,703.3 957.5,702.5 961.5,701.9 965.5,701.3 969.5,700.7 973.5,700.0 977.5,699.2 981.5,698.4 985.5,697.5 989.5,696.6 993.5,695.6 997.5,694.5 1001.5,693.4 1005.5,692.3 1009.5,691.3 1013.5,690.3 1017.5,689.3 1021.5,688.4 1025.5,687.5 1029.5,686.7 1033.5,686.1 1037.5,685.6 1041.5,685.2 1045.5,685.1 1049.5,685.2 1053.5,685.4 1057.5,685.9 1061.5,686.4 1065.5,687.1 1069.5,687.9 1073.5,688.7 1077.5,689.6 1081.5,690.3 1085.5,690.8 1089.5,691.2 1093.5,691.4 1097.5,691.2 1101.5,690.9 1105.5,690.3 1109.5,689.8 1113.5,689.1 1117.5,688.3 1121.5,687.6 1125.5,686.9 1129.5,686.2 1133.5,685.0 1137.5,683.6 1141.5,681.8 1145.5,679.3 1149.5,676.5 1153.5,673.5 1157.5,670.1 1161.5,665.6 1165.5,660.7 1169.5,656.2 1173.5,651.9 1177.5,647.7 1181.5,644.2 1185.5,641.2 1189.5,639.4 1193.5,638.9 1197.5,640.2 1201.5,642.4 1205.5,645.1 1209.5,648.3 1213.5,652.1 1217.5,656.2 1221.5,660.2 1225.5,663.5 1229.5,666.7 1233.5,669.4 1237.5,672.2 1241.5,674.9 1245.5,677.8 1249.5,680.5 1253.5,683.3 1257.5,685.7 1261.5,687.7 1265.5,689.2 1269.5,690.5" fill="none" stroke="#ff0000" stroke-width="1" stroke-dasharray="3,3" shape-rendering="crispEdges"/>
<text x="9.5" y="637.8" font-family="Liberation Sans, sans-serif" font-size="9.7" fill="#000" stroke="#000" stroke-width="0.2" textLength="147.00" lengthAdjust="spacingAndGlyphs">MACD(12,26,9) 0.001730 0.002671</text>
<text x="1601.3" y="635.7" font-family="Liberation Sans, sans-serif" font-size="9.7" fill="#000" stroke="#000" stroke-width="0.2" textLength="38.79" lengthAdjust="spacingAndGlyphs">0.032595</text>
<text x="1601.3" y="698.8" font-family="Liberation Sans, sans-serif" font-size="9.7" fill="#000" stroke="#000" stroke-width="0.2" textLength="18.10" lengthAdjust="spacingAndGlyphs">0.00</text>
<text x="1601.3" y="714.0" font-family="Liberation Sans, sans-serif" font-size="9.7" fill="#000" stroke="#000" stroke-width="0.2" textLength="41.88" lengthAdjust="spacingAndGlyphs">-0.010227</text>
<rect x="1598" y="627" width="1" height="1" fill="#000" />
<rect x="1598" y="695" width="1" height="1" fill="#000" />
<rect x="5" y="718" width="1" height="3" fill="#000" />
<text x="4.2" y="729.8" font-family="Liberation Sans, sans-serif" font-size="9.7" fill="#000" stroke="#000" stroke-width="0.2" textLength="50.16" lengthAdjust="spacingAndGlyphs">16 Apr 2019</text>
<rect x="69" y="718" width="1" height="3" fill="#000" />
<text x="68.2" y="729.8" font-family="Liberation Sans, sans-serif" font-size="9.7" fill="#000" stroke="#000" stroke-width="0.2" textLength="48.59" lengthAdjust="spacingAndGlyphs">4 May 2019</text>
<rect x="133" y="718" width="1" height="3" fill="#000" />
<text x="132.2" y="729.8" font-family="Liberation Sans, sans-serif" font-size="9.7" fill="#000" stroke="#000" stroke-width="0.2" textLength="53.77" lengthAdjust="spacingAndGlyphs">23 May 2019</text>
<rect x="197" y="718" width="1" height="3" fill="#000" />
<text x="196.2" y="729.8" font-family="Liberation Sans, sans-serif" font-size="9.7" fill="#000" stroke="#000" stroke-width="0.2" textLength="50.50" lengthAdjust="spacingAndGlyphs">11 Jun 2019</text>
<rect x="261" y="718" width="1" height="3" fill="#000" />
<text x="260.2" y="729.8" font-family="Liberation Sans, sans-serif" font-size="9.7" fill="#000" stroke="#000" stroke-width="0.2" textLength="51.19" lengthAdjust="spacingAndGlyphs">29 Jun 2019</text>
<rect x="325" y="718" width="1" height="3" fill="#000" />
<text x="324.2" y="729.8" font-family="Liberation Sans, sans-serif" font-size="9.7" fill="#000" stroke="#000" stroke-width="0.2" textLength="48.09" lengthAdjust="spacingAndGlyphs">18 Jul 2019</text>
<rect x="389" y="718" width="1" height="3" fill="#000" />
<text x="388.2" y="729.8" font-family="Liberation Sans, sans-serif" font-size="9.7" fill="#000" stroke="#000" stroke-width="0.2" textLength="47.06" lengthAdjust="spacingAndGlyphs">6 Aug 2019</text>
<rect x="453" y="718" width="1" height="3" fill="#000" />
<text x="452.2" y="729.8" font-family="Liberation Sans, sans-serif" font-size="9.7" fill="#000" stroke="#000" stroke-width="0.2" textLength="52.23" lengthAdjust="spacingAndGlyphs">24 Aug 2019</text>
<rect x="517" y="718" width="1" height="3" fill="#000" />
<text x="516.2" y="729.8" font-family="Liberation Sans, sans-serif" font-size="9.7" fill="#000" stroke="#000" stroke-width="0.2" textLength="52.74" lengthAdjust="spacingAndGlyphs">12 Sep 2019</text>
<rect x="581" y="718" width="1" height="3" fill="#000" />
<text x="580.2" y="729.8" font-family="Liberation Sans, sans-serif" font-size="9.7" fill="#000" stroke="#000" stroke-width="0.2" textLength="45.49" lengthAdjust="spacingAndGlyphs">1 Oct 2019</text>
<rect x="645" y="718" width="1" height="3" fill="#000" />
<text x="644.2" y="729.8" font-family="Liberation Sans, sans-serif" font-size="9.7" fill="#000" stroke="#000" stroke-width="0.2" textLength="50.66" lengthAdjust="spacingAndGlyphs">19 Oct 2019</text>
<rect x="709" y="718" width="1" height="3" fill="#000" />
<text x="708.2" y="729.8" font-family="Liberation Sans, sans-serif" font-size="9.7" fill="#000" stroke="#000" stroke-width="0.2" textLength="47.56" lengthAdjust="spacingAndGlyphs">7 Nov 2019</text>
<rect x="773" y="718" width="1" height="3" fill="#000" />
<text x="772.2" y="729.8" font-family="Liberation Sans, sans-serif" font-size="9.7" fill="#000" stroke="#000" stroke-width="0.2" textLength="52.74" lengthAdjust="spacingAndGlyphs">26 Nov 2019</text>
<rect x="837" y="718" width="1" height="3" fill="#000" />
<text x="836.2" y="729.8" font-family="Liberation Sans, sans-serif" font-size="9.7" fill="#000" stroke="#000" stroke-width="0.2" textLength="52.74" lengthAdjust="spacingAndGlyphs">14 Dec 2019</text>
<rect x="901" y="718" width="1" height="3" fill="#000" />
<text x="900.2" y="729.8" font-family="Liberation Sans, sans-serif" font-size="9.7" fill="#000" stroke="#000" stroke-width="0.2" textLength="46.02" lengthAdjust="spacingAndGlyphs">2 Jan 2020</text>
<rect x="965" y="718" width="1" height="3" fill="#000" />
<text x="964.2" y="729.8" font-family="Liberation Sans, sans-serif" font-size="9.7" fill="#000" stroke="#000" stroke-width="0.2" textLength="51.19" lengthAdjust="spacingAndGlyphs">21 Jan 2020</text>
<rect x="1029" y="718" width="1" height="3" fill="#000" />
<text x="1028.2" y="729.8" font-family="Liberation Sans, sans-serif" font-size="9.7" fill="#000" stroke="#000" stroke-width="0.2" textLength="47.05" lengthAdjust="spacingAndGlyphs">8 Feb 2020</text>
<rect x="1093" y="718" width="1" height="3" fill="#000" />
<text x="1092.2" y="729.8" font-family="Liberation Sans, sans-serif" font-size="9.7" fill="#000" stroke="#000" stroke-width="0.2" textLength="52.22" lengthAdjust="spacingAndGlyphs">27 Feb 2020</text>
<rect x="1157" y="718" width="1" height="3" fill="#000" />
<text x="1156.2" y="729.8" font-family="Liberation Sans, sans-serif" font-size="9.7" fill="#000" stroke="#000" stroke-width="0.2" textLength="52.21" lengthAdjust="spacingAndGlyphs">17 Mar 2020</text>
<rect x="1221" y="718" width="1" height="3" fill="#000" />
<text x="1220.2" y="729.8" font-family="Liberation Sans, sans-serif" font-size="9.7" fill="#000" stroke="#000" stroke-width="0.2" textLength="44.98" lengthAdjust="spacingAndGlyphs">4 Apr 2020</text>
<rect x="0" y="738" width="1641" height="1" fill="#d8d8d8" />
<rect x="0" y="740" width="1641" height="1" fill="#000" />
<rect x="0" y="741" width="1641" height="18" fill="#f0f0f0" />
<rect x="0" y="741" width="1641" height="1" fill="#ffffff" />
<rect x="0" y="759" width="1641" height="2" fill="#fafafa" />
<rect x="0" y="742" width="1" height="17" fill="#a0a0a0" />
<rect x="1" y="742" width="1" height="17" fill="#6d6d6d" />
<rect x="110" y="744" width="1" height="13" fill="#6d6d6d" />
<rect x="210" y="744" width="1" height="13" fill="#6d6d6d" />
<rect x="522" y="744" width="1" height="13" fill="#6d6d6d" />
<rect x="626" y="744" width="1" height="13" fill="#6d6d6d" />
<rect x="718" y="744" width="1" height="13" fill="#6d6d6d" />
<rect x="810" y="744" width="1" height="13" fill="#6d6d6d" />
<rect x="882" y="744" width="1" height="13" fill="#6d6d6d" />
<rect x="962" y="744" width="1" height="13" fill="#6d6d6d" />
<rect x="1042" y="744" width="1" height="13" fill="#6d6d6d" />
<rect x="1122" y="744" width="1" height="13" fill="#6d6d6d" />
<rect x="1198" y="744" width="1" height="13" fill="#6d6d6d" />
<rect x="1270" y="744" width="1" height="13" fill="#6d6d6d" />
<rect x="1354" y="744" width="1" height="13" fill="#6d6d6d" />
<rect x="314" y="740" width="104" height="19" fill="#ffffff" />
<rect x="314" y="740" width="1" height="19" fill="#000" />
<rect x="417" y="740" width="1" height="19" fill="#000" />
<rect x="314" y="758" width="104" height="1" fill="#000" />
<text x="18.5" y="754.6" font-family="Liberation Sans, sans-serif" font-size="12" fill="#6d6d6d">EURUSD,Daily</text>
<text x="120.6" y="754.6" font-family="Liberation Sans, sans-serif" font-size="12" fill="#6d6d6d">USDCHF,Daily</text>
<text x="221.4" y="754.6" font-family="Liberation Sans, sans-serif" font-size="12" fill="#6d6d6d">AUDUSD,Daily</text>
<text x="325.5" y="754.6" font-family="Liberation Sans, sans-serif" font-size="12" fill="#000">USDCAD,Daily</text>
<text x="427.9" y="754.6" font-family="Liberation Sans, sans-serif" font-size="12" fill="#6d6d6d">USDCNH,Daily</text>
<text x="534.3" y="754.6" font-family="Liberation Sans, sans-serif" font-size="12" fill="#6d6d6d">EURUSD,Daily</text>
<text x="636.6" y="754.6" font-family="Liberation Sans, sans-serif" font-size="12" fill="#6d6d6d">GBPUSD,M5</text>
<text x="729.4" y="754.6" font-family="Liberation Sans, sans-serif" font-size="12" fill="#6d6d6d">XAUUSD,H1</text>
<text x="821.6" y="754.6" font-family="Liberation Sans, sans-serif" font-size="12" fill="#6d6d6d">HK50,H1</text>
<text x="893.5" y="754.6" font-family="Liberation Sans, sans-serif" font-size="12" fill="#6d6d6d">UK100,H1</text>
<text x="973.4" y="754.6" font-family="Liberation Sans, sans-serif" font-size="12" fill="#6d6d6d">UK100,H1</text>
<text x="1053.6" y="754.6" font-family="Liberation Sans, sans-serif" font-size="12" fill="#6d6d6d">GER30,H1</text>
<text x="1132.4" y="754.6" font-family="Liberation Sans, sans-serif" font-size="12" fill="#6d6d6d">FRA40,H1</text>
<text x="1208.3" y="754.6" font-family="Liberation Sans, sans-serif" font-size="12" fill="#6d6d6d">USOil,H1</text>
<text x="1280.7" y="754.6" font-family="Liberation Sans, sans-serif" font-size="12" fill="#6d6d6d">USDJPY,H1</text>
<path d="M1616,746 L1616,752 L1612.5,749 Z" fill="#a0a0a0"/>
<path d="M1632,746 L1632,752 L1635.5,749 Z" fill="#a0a0a0"/>
</svg>
</body></html>
